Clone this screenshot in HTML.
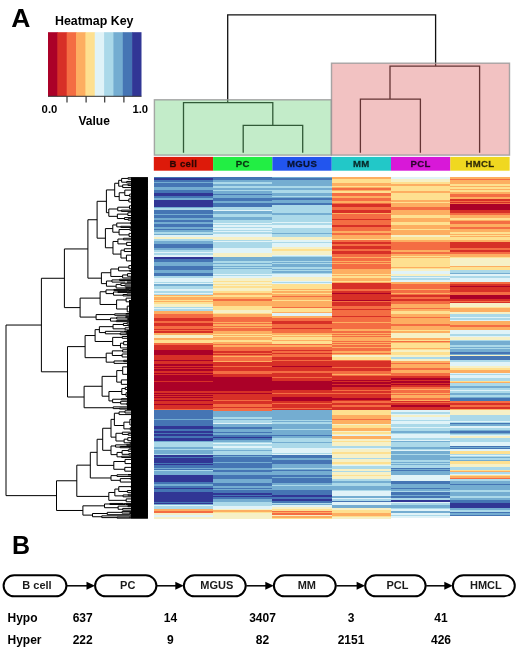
<!DOCTYPE html>
<html><head><meta charset="utf-8"><title>Figure</title>
<style>html,body{margin:0;padding:0;background:#fff;width:520px;height:649px;overflow:hidden}svg{display:block;filter:blur(0.45px)}
text{font-family:"Liberation Sans",sans-serif}</style></head>
<body><svg width="520" height="649" viewBox="0 0 520 649" shape-rendering="auto"><rect width="520" height="649" fill="#fff"/><text x="11.2" y="27.2" font-size="26.5" font-weight="bold" font-family="Liberation Sans, sans-serif">A</text><text x="94.2" y="24.7" text-anchor="middle" font-size="12.4" font-weight="bold" font-family="Liberation Sans, sans-serif">Heatmap Key</text><text x="41.6" y="112.6" font-size="11.3" font-weight="bold" font-family="Liberation Sans, sans-serif">0.0</text><text x="132.4" y="112.6" font-size="11.3" font-weight="bold" font-family="Liberation Sans, sans-serif">1.0</text><text x="94.2" y="124.9" text-anchor="middle" font-size="12" font-weight="bold" font-family="Liberation Sans, sans-serif">Value</text><text x="12" y="553.7" font-size="25" font-weight="bold" font-family="Liberation Sans, sans-serif">B</text><rect x="48" y="32.2" width="9.95" height="64.1" fill="#ab0128"/><rect x="57.35" y="32.2" width="9.95" height="64.1" fill="#d73027"/><rect x="66.7" y="32.2" width="9.95" height="64.1" fill="#f46d43"/><rect x="76.05" y="32.2" width="9.95" height="64.1" fill="#fdae61"/><rect x="85.4" y="32.2" width="9.95" height="64.1" fill="#fee090"/><rect x="94.75" y="32.2" width="9.95" height="64.1" fill="#e0f3f8"/><rect x="104.1" y="32.2" width="9.95" height="64.1" fill="#abd9e9"/><rect x="113.45" y="32.2" width="9.95" height="64.1" fill="#74add1"/><rect x="122.8" y="32.2" width="9.95" height="64.1" fill="#4575b4"/><rect x="132.15" y="32.2" width="9.35" height="64.1" fill="#313695"/><path d="M48.0 96.3H141.5" stroke="#333" stroke-width="1"/><path d="M67 96.3V102.5" stroke="#333" stroke-width="1.2"/><path d="M86.1 96.3V102.5" stroke="#333" stroke-width="1.2"/><path d="M104.7 96.3V102.5" stroke="#333" stroke-width="1.2"/><path d="M123.9 96.3V102.5" stroke="#333" stroke-width="1.2"/><path d="M227.7 14.8L435.6 14.8M227.7 14.8L227.7 102.7M435.6 14.8L435.6 66.2M183.5 102.7L272.8 102.7M183.5 102.7L183.5 152M272.8 102.7L272.8 125.4M243.2 125.4L302.7 125.4M243.2 125.4L243.2 152M302.7 125.4L302.7 152M390 66.2L479.6 66.2M390 66.2L390 99.2M360.4 99.2L420.4 99.2M360.4 99.2L360.4 152M420.4 99.2L420.4 152M479.6 66.2L479.6 152" stroke="#111" stroke-width="1.3" fill="none" stroke-linecap="square"/><rect x="154.4" y="99.8" width="176.9" height="55.3" fill="rgb(100,205,115)" fill-opacity="0.39" stroke="#999" stroke-opacity="0.85" stroke-width="1.4"/><rect x="331.5" y="63.2" width="178" height="91.9" fill="rgb(223,104,104)" fill-opacity="0.404" stroke="#999" stroke-opacity="0.85" stroke-width="1.4"/><rect x="153.8" y="156.9" width="59.35" height="13.8" fill="#dd1a0a"/><text x="183.45" y="167" text-anchor="middle" font-size="9.6" letter-spacing="0.35" font-weight="bold" fill="#000" fill-opacity="0.75" stroke="#000" stroke-opacity="0.6" stroke-width="0.35" font-family="Liberation Sans, sans-serif">B cell</text><rect x="213.1" y="156.9" width="59.35" height="13.8" fill="#22ee44"/><text x="242.75" y="167" text-anchor="middle" font-size="9.6" letter-spacing="0.35" font-weight="bold" fill="#000" fill-opacity="0.75" stroke="#000" stroke-opacity="0.6" stroke-width="0.35" font-family="Liberation Sans, sans-serif">PC</text><rect x="272.4" y="156.9" width="59.35" height="13.8" fill="#2255ee"/><text x="302.05" y="167" text-anchor="middle" font-size="9.6" letter-spacing="0.35" font-weight="bold" fill="#000" fill-opacity="0.75" stroke="#000" stroke-opacity="0.6" stroke-width="0.35" font-family="Liberation Sans, sans-serif">MGUS</text><rect x="331.7" y="156.9" width="59.35" height="13.8" fill="#22c8c8"/><text x="361.35" y="167" text-anchor="middle" font-size="9.6" letter-spacing="0.35" font-weight="bold" fill="#000" fill-opacity="0.75" stroke="#000" stroke-opacity="0.6" stroke-width="0.35" font-family="Liberation Sans, sans-serif">MM</text><rect x="391.0" y="156.9" width="59.35" height="13.8" fill="#d818d8"/><text x="420.65" y="167" text-anchor="middle" font-size="9.6" letter-spacing="0.35" font-weight="bold" fill="#000" fill-opacity="0.75" stroke="#000" stroke-opacity="0.6" stroke-width="0.35" font-family="Liberation Sans, sans-serif">PCL</text><rect x="450.3" y="156.9" width="59.35" height="13.8" fill="#f0d820"/><text x="479.95" y="167" text-anchor="middle" font-size="9.6" letter-spacing="0.35" font-weight="bold" fill="#000" fill-opacity="0.75" stroke="#000" stroke-opacity="0.6" stroke-width="0.35" font-family="Liberation Sans, sans-serif">HMCL</text><g shape-rendering="crispEdges"><rect x="153.8" y="177.3" width="59.3" height="1.03" fill="#4575b4"/><rect x="153.8" y="178.28" width="59.3" height="1.93" fill="#313695"/><rect x="153.8" y="180.16" width="59.3" height="1.46" fill="#4575b4"/><rect x="153.8" y="181.57" width="59.3" height="1.69" fill="#74add1"/><rect x="153.8" y="183.21" width="59.3" height="2.4" fill="#4575b4"/><rect x="153.8" y="185.56" width="59.3" height="1.69" fill="#4575b4"/><rect x="153.8" y="187.2" width="59.3" height="2.4" fill="#74add1"/><rect x="153.8" y="189.55" width="59.3" height="3.1" fill="#4575b4"/><rect x="153.8" y="192.6" width="59.3" height="1.69" fill="#313695"/><rect x="153.8" y="194.24" width="59.3" height="1.93" fill="#313695"/><rect x="153.8" y="196.12" width="59.3" height="1.93" fill="#4575b4"/><rect x="153.8" y="197.99" width="59.3" height="1.69" fill="#74add1"/><rect x="153.8" y="199.64" width="59.3" height="2.4" fill="#313695"/><rect x="153.8" y="201.98" width="59.3" height="4.74" fill="#313695"/><rect x="153.8" y="206.68" width="59.3" height="1.69" fill="#74add1"/><rect x="153.8" y="208.32" width="59.3" height="1.93" fill="#abd9e9"/><rect x="153.8" y="210.19" width="59.3" height="3.57" fill="#4575b4"/><rect x="153.8" y="213.71" width="59.3" height="1.69" fill="#74add1"/><rect x="153.8" y="215.36" width="59.3" height="3.1" fill="#4575b4"/><rect x="153.8" y="218.41" width="59.3" height="1.69" fill="#74add1"/><rect x="153.8" y="220.05" width="59.3" height="1.93" fill="#4575b4"/><rect x="153.8" y="221.93" width="59.3" height="2.4" fill="#74add1"/><rect x="153.8" y="224.27" width="59.3" height="2.4" fill="#4575b4"/><rect x="153.8" y="226.62" width="59.3" height="1.93" fill="#74add1"/><rect x="153.8" y="228.5" width="59.3" height="1.22" fill="#4575b4"/><rect x="153.8" y="229.67" width="59.3" height="1.22" fill="#74add1"/><rect x="153.8" y="230.84" width="59.3" height="1.69" fill="#74add1"/><rect x="153.8" y="232.48" width="59.3" height="1.34" fill="#abd9e9"/><rect x="153.8" y="233.78" width="59.3" height="1.34" fill="#74add1"/><rect x="153.8" y="235.07" width="59.3" height="1.86" fill="#e0f3f8"/><rect x="153.8" y="236.88" width="59.3" height="2.4" fill="#f6f0c6"/><rect x="153.8" y="239.22" width="59.3" height="1.46" fill="#abd9e9"/><rect x="153.8" y="240.63" width="59.3" height="1.46" fill="#74add1"/><rect x="153.8" y="242.04" width="59.3" height="2.4" fill="#74add1"/><rect x="153.8" y="244.39" width="59.3" height="3.57" fill="#4575b4"/><rect x="153.8" y="247.9" width="59.3" height="1.69" fill="#74add1"/><rect x="153.8" y="249.55" width="59.3" height="2.4" fill="#abd9e9"/><rect x="153.8" y="251.89" width="59.3" height="1.58" fill="#e0f3f8"/><rect x="153.8" y="253.42" width="59.3" height="1.58" fill="#abd9e9"/><rect x="153.8" y="254.94" width="59.3" height="2.4" fill="#e0f3f8"/><rect x="153.8" y="257.29" width="59.3" height="1.69" fill="#313695"/><rect x="153.8" y="258.93" width="59.3" height="1.93" fill="#4575b4"/><rect x="153.8" y="260.81" width="59.3" height="1.22" fill="#4575b4"/><rect x="153.8" y="261.98" width="59.3" height="1.22" fill="#74add1"/><rect x="153.8" y="263.16" width="59.3" height="2.4" fill="#74add1"/><rect x="153.8" y="265.5" width="59.3" height="4.74" fill="#4575b4"/><rect x="153.8" y="270.19" width="59.3" height="2.4" fill="#74add1"/><rect x="153.8" y="272.54" width="59.3" height="3.57" fill="#4575b4"/><rect x="153.8" y="276.06" width="59.3" height="2.4" fill="#abd9e9"/><rect x="153.8" y="278.41" width="59.3" height="3.57" fill="#e0f3f8"/><rect x="153.8" y="281.93" width="59.3" height="1.22" fill="#abd9e9"/><rect x="153.8" y="283.1" width="59.3" height="1.22" fill="#e0f3f8"/><rect x="153.8" y="284.27" width="59.3" height="1.93" fill="#74add1"/><rect x="153.8" y="286.15" width="59.3" height="2.4" fill="#abd9e9"/><rect x="153.8" y="288.5" width="59.3" height="2.4" fill="#e0f3f8"/><rect x="153.8" y="290.84" width="59.3" height="1.93" fill="#abd9e9"/><rect x="153.8" y="292.72" width="59.3" height="1.22" fill="#e0f3f8"/><rect x="153.8" y="293.89" width="59.3" height="1.22" fill="#abd9e9"/><rect x="153.8" y="295.07" width="59.3" height="1.19" fill="#fdae61"/><rect x="153.8" y="296.21" width="59.3" height="1.19" fill="#fee090"/><rect x="153.8" y="297.35" width="59.3" height="2.4" fill="#fdae61"/><rect x="153.8" y="299.69" width="59.3" height="1.22" fill="#fee090"/><rect x="153.8" y="300.87" width="59.3" height="1.22" fill="#fdae61"/><rect x="153.8" y="302.04" width="59.3" height="2.4" fill="#fee090"/><rect x="153.8" y="304.39" width="59.3" height="2.4" fill="#f6f0c6"/><rect x="153.8" y="306.73" width="59.3" height="1.22" fill="#abd9e9"/><rect x="153.8" y="307.9" width="59.3" height="1.22" fill="#e0f3f8"/><rect x="153.8" y="309.08" width="59.3" height="2.4" fill="#abd9e9"/><rect x="153.8" y="311.42" width="59.3" height="2.4" fill="#fdae61"/><rect x="153.8" y="313.77" width="59.3" height="4.74" fill="#f46d43"/><rect x="153.8" y="318.46" width="59.3" height="2.4" fill="#d73027"/><rect x="153.8" y="320.81" width="59.3" height="2.4" fill="#f46d43"/><rect x="153.8" y="323.16" width="59.3" height="2.4" fill="#d73027"/><rect x="153.8" y="325.5" width="59.3" height="3.57" fill="#f46d43"/><rect x="153.8" y="329.02" width="59.3" height="1.22" fill="#d73027"/><rect x="153.8" y="330.19" width="59.3" height="1.22" fill="#f46d43"/><rect x="153.8" y="331.37" width="59.3" height="1.22" fill="#d73027"/><rect x="153.8" y="332.54" width="59.3" height="2.4" fill="#fdae61"/><rect x="153.8" y="334.89" width="59.3" height="3.57" fill="#f6f0c6"/><rect x="153.8" y="338.41" width="59.3" height="1.22" fill="#fdae61"/><rect x="153.8" y="339.58" width="59.3" height="1.22" fill="#fee090"/><rect x="153.8" y="340.75" width="59.3" height="2.4" fill="#fee090"/><rect x="153.8" y="343.1" width="59.3" height="2.4" fill="#f46d43"/><rect x="153.8" y="345.45" width="59.3" height="3.1" fill="#d73027"/><rect x="153.8" y="348.5" width="59.3" height="1.46" fill="#d73027"/><rect x="153.8" y="349.9" width="59.3" height="1.46" fill="#ab0128"/><rect x="153.8" y="351.31" width="59.3" height="3.8" fill="#ab0128"/><rect x="153.8" y="355.07" width="59.3" height="3.5" fill="#d73027"/><rect x="153.8" y="358.52" width="59.3" height="1.22" fill="#d73027"/><rect x="153.8" y="359.69" width="59.3" height="1.22" fill="#ab0128"/><rect x="153.8" y="360.87" width="59.3" height="3.57" fill="#d73027"/><rect x="153.8" y="364.39" width="59.3" height="1.22" fill="#ab0128"/><rect x="153.8" y="365.56" width="59.3" height="1.22" fill="#d73027"/><rect x="153.8" y="366.73" width="59.3" height="1.22" fill="#ab0128"/><rect x="153.8" y="367.9" width="59.3" height="1.61" fill="#d73027"/><rect x="153.8" y="369.47" width="59.3" height="1.61" fill="#ab0128"/><rect x="153.8" y="371.03" width="59.3" height="1.61" fill="#d73027"/><rect x="153.8" y="372.6" width="59.3" height="1.22" fill="#ab0128"/><rect x="153.8" y="373.77" width="59.3" height="1.22" fill="#d73027"/><rect x="153.8" y="374.94" width="59.3" height="1.22" fill="#ab0128"/><rect x="153.8" y="376.12" width="59.3" height="4.74" fill="#ab0128"/><rect x="153.8" y="380.81" width="59.3" height="1.22" fill="#d73027"/><rect x="153.8" y="381.98" width="59.3" height="1.22" fill="#ab0128"/><rect x="153.8" y="383.16" width="59.3" height="7.09" fill="#ab0128"/><rect x="153.8" y="390.19" width="59.3" height="1.22" fill="#ab0128"/><rect x="153.8" y="391.37" width="59.3" height="1.22" fill="#d73027"/><rect x="153.8" y="392.54" width="59.3" height="1.22" fill="#ab0128"/><rect x="153.8" y="393.71" width="59.3" height="1.22" fill="#d73027"/><rect x="153.8" y="394.89" width="59.3" height="1.22" fill="#ab0128"/><rect x="153.8" y="396.06" width="59.3" height="1.22" fill="#d73027"/><rect x="153.8" y="397.23" width="59.3" height="1.22" fill="#ab0128"/><rect x="153.8" y="398.41" width="59.3" height="1.22" fill="#d73027"/><rect x="153.8" y="399.58" width="59.3" height="1.22" fill="#ab0128"/><rect x="153.8" y="400.75" width="59.3" height="2.4" fill="#d73027"/><rect x="153.8" y="403.1" width="59.3" height="1.22" fill="#d73027"/><rect x="153.8" y="404.27" width="59.3" height="1.22" fill="#ab0128"/><rect x="153.8" y="405.45" width="59.3" height="3.1" fill="#d73027"/><rect x="153.8" y="408.5" width="59.3" height="1.22" fill="#f46d43"/><rect x="153.8" y="409.67" width="59.3" height="5.45" fill="#4575b4"/><rect x="153.8" y="415.07" width="59.3" height="2.33" fill="#4575b4"/><rect x="153.8" y="417.35" width="59.3" height="1.22" fill="#4575b4"/><rect x="153.8" y="418.52" width="59.3" height="1.22" fill="#74add1"/><rect x="153.8" y="419.69" width="59.3" height="5.92" fill="#4575b4"/><rect x="153.8" y="425.56" width="59.3" height="2.4" fill="#313695"/><rect x="153.8" y="427.9" width="59.3" height="1.22" fill="#313695"/><rect x="153.8" y="429.08" width="59.3" height="1.22" fill="#4575b4"/><rect x="153.8" y="430.25" width="59.3" height="1.22" fill="#4575b4"/><rect x="153.8" y="431.42" width="59.3" height="1.22" fill="#313695"/><rect x="153.8" y="432.6" width="59.3" height="1.22" fill="#4575b4"/><rect x="153.8" y="433.77" width="59.3" height="2.4" fill="#313695"/><rect x="153.8" y="436.12" width="59.3" height="2.4" fill="#4575b4"/><rect x="153.8" y="438.46" width="59.3" height="2.4" fill="#313695"/><rect x="153.8" y="440.81" width="59.3" height="1.22" fill="#74add1"/><rect x="153.8" y="441.98" width="59.3" height="1.22" fill="#abd9e9"/><rect x="153.8" y="443.16" width="59.3" height="3.57" fill="#abd9e9"/><rect x="153.8" y="446.68" width="59.3" height="2.4" fill="#74add1"/><rect x="153.8" y="449.02" width="59.3" height="1.22" fill="#abd9e9"/><rect x="153.8" y="450.19" width="59.3" height="1.22" fill="#74add1"/><rect x="153.8" y="451.37" width="59.3" height="2.4" fill="#74add1"/><rect x="153.8" y="453.71" width="59.3" height="1.69" fill="#abd9e9"/><rect x="153.8" y="455.36" width="59.3" height="1.58" fill="#313695"/><rect x="153.8" y="456.88" width="59.3" height="1.58" fill="#4575b4"/><rect x="153.8" y="458.41" width="59.3" height="3.57" fill="#313695"/><rect x="153.8" y="461.93" width="59.3" height="1.22" fill="#313695"/><rect x="153.8" y="463.1" width="59.3" height="1.22" fill="#4575b4"/><rect x="153.8" y="464.27" width="59.3" height="1.22" fill="#313695"/><rect x="153.8" y="465.45" width="59.3" height="2.4" fill="#4575b4"/><rect x="153.8" y="467.79" width="59.3" height="1.22" fill="#74add1"/><rect x="153.8" y="468.97" width="59.3" height="1.22" fill="#4575b4"/><rect x="153.8" y="470.14" width="59.3" height="1.22" fill="#abd9e9"/><rect x="153.8" y="471.31" width="59.3" height="1.22" fill="#74add1"/><rect x="153.8" y="472.48" width="59.3" height="2.63" fill="#74add1"/><rect x="153.8" y="475.07" width="59.3" height="6.72" fill="#313695"/><rect x="153.8" y="481.73" width="59.3" height="1.93" fill="#4575b4"/><rect x="153.8" y="483.61" width="59.3" height="2.4" fill="#74add1"/><rect x="153.8" y="485.95" width="59.3" height="1.69" fill="#4575b4"/><rect x="153.8" y="487.6" width="59.3" height="1.22" fill="#313695"/><rect x="153.8" y="488.77" width="59.3" height="1.22" fill="#4575b4"/><rect x="153.8" y="489.94" width="59.3" height="2.4" fill="#4575b4"/><rect x="153.8" y="492.29" width="59.3" height="9.44" fill="#313695"/><rect x="153.8" y="501.68" width="59.3" height="1.22" fill="#4575b4"/><rect x="153.8" y="502.85" width="59.3" height="1.22" fill="#313695"/><rect x="153.8" y="504.02" width="59.3" height="1.22" fill="#74add1"/><rect x="153.8" y="505.19" width="59.3" height="1.22" fill="#e0f3f8"/><rect x="153.8" y="506.37" width="59.3" height="1.22" fill="#abd9e9"/><rect x="153.8" y="507.54" width="59.3" height="1.93" fill="#abd9e9"/><rect x="153.8" y="509.42" width="59.3" height="1.69" fill="#fdae61"/><rect x="153.8" y="511.06" width="59.3" height="2.4" fill="#f46d43"/><rect x="153.8" y="513.41" width="59.3" height="1.69" fill="#f6f0c6"/><rect x="153.8" y="515.05" width="59.3" height="1.93" fill="#e0f3f8"/><rect x="153.8" y="516.93" width="59.3" height="1.62" fill="#f6f0c6"/><rect x="213.1" y="177.3" width="59.3" height="2.44" fill="#4575b4"/><rect x="213.1" y="179.69" width="59.3" height="2.4" fill="#74add1"/><rect x="213.1" y="182.04" width="59.3" height="1.93" fill="#abd9e9"/><rect x="213.1" y="183.92" width="59.3" height="1.69" fill="#74add1"/><rect x="213.1" y="185.56" width="59.3" height="2.4" fill="#abd9e9"/><rect x="213.1" y="187.9" width="59.3" height="1.69" fill="#74add1"/><rect x="213.1" y="189.55" width="59.3" height="1.93" fill="#abd9e9"/><rect x="213.1" y="191.42" width="59.3" height="2.87" fill="#74add1"/><rect x="213.1" y="194.24" width="59.3" height="1.22" fill="#4575b4"/><rect x="213.1" y="195.41" width="59.3" height="1.22" fill="#74add1"/><rect x="213.1" y="196.59" width="59.3" height="1.93" fill="#74add1"/><rect x="213.1" y="198.46" width="59.3" height="2.4" fill="#4575b4"/><rect x="213.1" y="200.81" width="59.3" height="2.4" fill="#74add1"/><rect x="213.1" y="203.16" width="59.3" height="3.57" fill="#4575b4"/><rect x="213.1" y="206.68" width="59.3" height="2.4" fill="#abd9e9"/><rect x="213.1" y="209.02" width="59.3" height="1.22" fill="#abd9e9"/><rect x="213.1" y="210.19" width="59.3" height="1.22" fill="#e0f3f8"/><rect x="213.1" y="211.37" width="59.3" height="3.1" fill="#74add1"/><rect x="213.1" y="214.42" width="59.3" height="2.4" fill="#abd9e9"/><rect x="213.1" y="216.76" width="59.3" height="2.87" fill="#74add1"/><rect x="213.1" y="219.58" width="59.3" height="2.4" fill="#abd9e9"/><rect x="213.1" y="221.93" width="59.3" height="1.22" fill="#abd9e9"/><rect x="213.1" y="223.1" width="59.3" height="1.22" fill="#e0f3f8"/><rect x="213.1" y="224.27" width="59.3" height="1.22" fill="#abd9e9"/><rect x="213.1" y="225.45" width="59.3" height="1.42" fill="#e0f3f8"/><rect x="213.1" y="226.82" width="59.3" height="1.42" fill="#abd9e9"/><rect x="213.1" y="228.19" width="59.3" height="1.42" fill="#e0f3f8"/><rect x="213.1" y="229.57" width="59.3" height="1.42" fill="#abd9e9"/><rect x="213.1" y="230.94" width="59.3" height="1.42" fill="#e0f3f8"/><rect x="213.1" y="232.32" width="59.3" height="1.42" fill="#abd9e9"/><rect x="213.1" y="233.69" width="59.3" height="1.42" fill="#e0f3f8"/><rect x="213.1" y="235.07" width="59.3" height="2.33" fill="#e0f3f8"/><rect x="213.1" y="237.35" width="59.3" height="2.4" fill="#f6f0c6"/><rect x="213.1" y="239.69" width="59.3" height="1.22" fill="#abd9e9"/><rect x="213.1" y="240.87" width="59.3" height="1.22" fill="#e0f3f8"/><rect x="213.1" y="242.04" width="59.3" height="1.22" fill="#abd9e9"/><rect x="213.1" y="243.21" width="59.3" height="3.57" fill="#abd9e9"/><rect x="213.1" y="246.73" width="59.3" height="1.22" fill="#abd9e9"/><rect x="213.1" y="247.9" width="59.3" height="1.22" fill="#e0f3f8"/><rect x="213.1" y="249.08" width="59.3" height="3.57" fill="#e0f3f8"/><rect x="213.1" y="252.6" width="59.3" height="2.4" fill="#f6f0c6"/><rect x="213.1" y="254.94" width="59.3" height="2.4" fill="#f6f0c6"/><rect x="213.1" y="257.29" width="59.3" height="2.4" fill="#74add1"/><rect x="213.1" y="259.64" width="59.3" height="1.22" fill="#74add1"/><rect x="213.1" y="260.81" width="59.3" height="1.22" fill="#abd9e9"/><rect x="213.1" y="261.98" width="59.3" height="1.22" fill="#abd9e9"/><rect x="213.1" y="263.16" width="59.3" height="1.22" fill="#74add1"/><rect x="213.1" y="264.33" width="59.3" height="1.22" fill="#abd9e9"/><rect x="213.1" y="265.5" width="59.3" height="1.22" fill="#74add1"/><rect x="213.1" y="266.68" width="59.3" height="1.22" fill="#abd9e9"/><rect x="213.1" y="267.85" width="59.3" height="1.22" fill="#74add1"/><rect x="213.1" y="269.02" width="59.3" height="3.57" fill="#abd9e9"/><rect x="213.1" y="272.54" width="59.3" height="1.22" fill="#abd9e9"/><rect x="213.1" y="273.71" width="59.3" height="1.22" fill="#e0f3f8"/><rect x="213.1" y="274.89" width="59.3" height="1.22" fill="#abd9e9"/><rect x="213.1" y="276.06" width="59.3" height="2.4" fill="#e0f3f8"/><rect x="213.1" y="278.41" width="59.3" height="2.4" fill="#f6f0c6"/><rect x="213.1" y="280.75" width="59.3" height="1.46" fill="#fee090"/><rect x="213.1" y="282.16" width="59.3" height="1.46" fill="#f6f0c6"/><rect x="213.1" y="283.57" width="59.3" height="1.46" fill="#fee090"/><rect x="213.1" y="284.98" width="59.3" height="1.46" fill="#f6f0c6"/><rect x="213.1" y="286.38" width="59.3" height="1.46" fill="#fee090"/><rect x="213.1" y="287.79" width="59.3" height="3.57" fill="#f6f0c6"/><rect x="213.1" y="291.31" width="59.3" height="1.93" fill="#fee090"/><rect x="213.1" y="293.19" width="59.3" height="1.93" fill="#fdae61"/><rect x="213.1" y="295.07" width="59.3" height="2.33" fill="#fee090"/><rect x="213.1" y="297.35" width="59.3" height="1.93" fill="#fdae61"/><rect x="213.1" y="299.22" width="59.3" height="1.46" fill="#f46d43"/><rect x="213.1" y="300.63" width="59.3" height="1.46" fill="#fdae61"/><rect x="213.1" y="302.04" width="59.3" height="2.4" fill="#fdae61"/><rect x="213.1" y="304.39" width="59.3" height="1.22" fill="#fdae61"/><rect x="213.1" y="305.56" width="59.3" height="1.22" fill="#fee090"/><rect x="213.1" y="306.73" width="59.3" height="2.87" fill="#fee090"/><rect x="213.1" y="309.55" width="59.3" height="3.1" fill="#f6f0c6"/><rect x="213.1" y="312.6" width="59.3" height="1.22" fill="#fee090"/><rect x="213.1" y="313.77" width="59.3" height="1.22" fill="#fdae61"/><rect x="213.1" y="314.94" width="59.3" height="2.4" fill="#fdae61"/><rect x="213.1" y="317.29" width="59.3" height="3.57" fill="#f46d43"/><rect x="213.1" y="320.81" width="59.3" height="1.22" fill="#f46d43"/><rect x="213.1" y="321.98" width="59.3" height="1.22" fill="#fdae61"/><rect x="213.1" y="323.16" width="59.3" height="1.22" fill="#f46d43"/><rect x="213.1" y="324.33" width="59.3" height="1.22" fill="#fdae61"/><rect x="213.1" y="325.5" width="59.3" height="1.22" fill="#f46d43"/><rect x="213.1" y="326.68" width="59.3" height="1.22" fill="#fdae61"/><rect x="213.1" y="327.85" width="59.3" height="3.57" fill="#f46d43"/><rect x="213.1" y="331.37" width="59.3" height="2.4" fill="#fdae61"/><rect x="213.1" y="333.71" width="59.3" height="1.22" fill="#fee090"/><rect x="213.1" y="334.89" width="59.3" height="1.22" fill="#fdae61"/><rect x="213.1" y="336.06" width="59.3" height="1.22" fill="#fee090"/><rect x="213.1" y="337.23" width="59.3" height="2.4" fill="#fdae61"/><rect x="213.1" y="339.58" width="59.3" height="2.4" fill="#fee090"/><rect x="213.1" y="341.93" width="59.3" height="2.4" fill="#fdae61"/><rect x="213.1" y="344.27" width="59.3" height="1.22" fill="#f46d43"/><rect x="213.1" y="345.45" width="59.3" height="1.22" fill="#fdae61"/><rect x="213.1" y="346.62" width="59.3" height="3.57" fill="#f46d43"/><rect x="213.1" y="350.14" width="59.3" height="1.28" fill="#f46d43"/><rect x="213.1" y="351.37" width="59.3" height="1.28" fill="#d73027"/><rect x="213.1" y="352.6" width="59.3" height="1.28" fill="#f46d43"/><rect x="213.1" y="353.83" width="59.3" height="1.28" fill="#d73027"/><rect x="213.1" y="355.07" width="59.3" height="1.19" fill="#f46d43"/><rect x="213.1" y="356.21" width="59.3" height="1.19" fill="#fdae61"/><rect x="213.1" y="357.35" width="59.3" height="2.4" fill="#f46d43"/><rect x="213.1" y="359.69" width="59.3" height="1.22" fill="#f46d43"/><rect x="213.1" y="360.87" width="59.3" height="1.22" fill="#fdae61"/><rect x="213.1" y="362.04" width="59.3" height="2.4" fill="#d73027"/><rect x="213.1" y="364.39" width="59.3" height="1.22" fill="#d73027"/><rect x="213.1" y="365.56" width="59.3" height="1.22" fill="#f46d43"/><rect x="213.1" y="366.73" width="59.3" height="1.22" fill="#d73027"/><rect x="213.1" y="367.9" width="59.3" height="3.57" fill="#d73027"/><rect x="213.1" y="371.42" width="59.3" height="2.4" fill="#f46d43"/><rect x="213.1" y="373.77" width="59.3" height="3.57" fill="#d73027"/><rect x="213.1" y="377.29" width="59.3" height="12.95" fill="#ab0128"/><rect x="213.1" y="390.19" width="59.3" height="1.22" fill="#ab0128"/><rect x="213.1" y="391.37" width="59.3" height="1.22" fill="#d73027"/><rect x="213.1" y="392.54" width="59.3" height="1.22" fill="#ab0128"/><rect x="213.1" y="393.71" width="59.3" height="4.74" fill="#d73027"/><rect x="213.1" y="398.41" width="59.3" height="1.22" fill="#d73027"/><rect x="213.1" y="399.58" width="59.3" height="1.22" fill="#f46d43"/><rect x="213.1" y="400.75" width="59.3" height="3.57" fill="#d73027"/><rect x="213.1" y="404.27" width="59.3" height="2.4" fill="#f46d43"/><rect x="213.1" y="406.62" width="59.3" height="1.22" fill="#d73027"/><rect x="213.1" y="407.79" width="59.3" height="1.22" fill="#f46d43"/><rect x="213.1" y="408.97" width="59.3" height="1.69" fill="#f46d43"/><rect x="213.1" y="410.61" width="59.3" height="4.51" fill="#74add1"/><rect x="213.1" y="415.07" width="59.3" height="2.33" fill="#74add1"/><rect x="213.1" y="417.35" width="59.3" height="1.22" fill="#abd9e9"/><rect x="213.1" y="418.52" width="59.3" height="1.22" fill="#74add1"/><rect x="213.1" y="419.69" width="59.3" height="2.87" fill="#abd9e9"/><rect x="213.1" y="422.51" width="59.3" height="1.93" fill="#e0f3f8"/><rect x="213.1" y="424.39" width="59.3" height="2.4" fill="#74add1"/><rect x="213.1" y="426.73" width="59.3" height="2.4" fill="#4575b4"/><rect x="213.1" y="429.08" width="59.3" height="2.87" fill="#74add1"/><rect x="213.1" y="431.89" width="59.3" height="1.58" fill="#4575b4"/><rect x="213.1" y="433.42" width="59.3" height="1.58" fill="#74add1"/><rect x="213.1" y="434.94" width="59.3" height="2.4" fill="#4575b4"/><rect x="213.1" y="437.29" width="59.3" height="1.22" fill="#313695"/><rect x="213.1" y="438.46" width="59.3" height="1.22" fill="#4575b4"/><rect x="213.1" y="439.64" width="59.3" height="2.4" fill="#74add1"/><rect x="213.1" y="441.98" width="59.3" height="1.22" fill="#abd9e9"/><rect x="213.1" y="443.16" width="59.3" height="1.22" fill="#e0f3f8"/><rect x="213.1" y="444.33" width="59.3" height="1.22" fill="#abd9e9"/><rect x="213.1" y="445.5" width="59.3" height="2.4" fill="#e0f3f8"/><rect x="213.1" y="447.85" width="59.3" height="2.4" fill="#abd9e9"/><rect x="213.1" y="450.19" width="59.3" height="1.22" fill="#74add1"/><rect x="213.1" y="451.37" width="59.3" height="1.22" fill="#abd9e9"/><rect x="213.1" y="452.54" width="59.3" height="2.4" fill="#abd9e9"/><rect x="213.1" y="454.89" width="59.3" height="1.22" fill="#4575b4"/><rect x="213.1" y="456.06" width="59.3" height="1.22" fill="#74add1"/><rect x="213.1" y="457.23" width="59.3" height="1.22" fill="#4575b4"/><rect x="213.1" y="458.41" width="59.3" height="3.57" fill="#4575b4"/><rect x="213.1" y="461.93" width="59.3" height="1.22" fill="#74add1"/><rect x="213.1" y="463.1" width="59.3" height="1.22" fill="#4575b4"/><rect x="213.1" y="464.27" width="59.3" height="3.57" fill="#4575b4"/><rect x="213.1" y="467.79" width="59.3" height="2.4" fill="#74add1"/><rect x="213.1" y="470.14" width="59.3" height="2.4" fill="#4575b4"/><rect x="213.1" y="472.48" width="59.3" height="2.63" fill="#74add1"/><rect x="213.1" y="475.07" width="59.3" height="3.2" fill="#4575b4"/><rect x="213.1" y="478.21" width="59.3" height="1.22" fill="#4575b4"/><rect x="213.1" y="479.39" width="59.3" height="1.22" fill="#74add1"/><rect x="213.1" y="480.56" width="59.3" height="2.4" fill="#74add1"/><rect x="213.1" y="482.9" width="59.3" height="3.57" fill="#4575b4"/><rect x="213.1" y="486.42" width="59.3" height="1.22" fill="#74add1"/><rect x="213.1" y="487.6" width="59.3" height="1.22" fill="#4575b4"/><rect x="213.1" y="488.77" width="59.3" height="1.22" fill="#74add1"/><rect x="213.1" y="489.94" width="59.3" height="3.57" fill="#4575b4"/><rect x="213.1" y="493.46" width="59.3" height="1.22" fill="#313695"/><rect x="213.1" y="494.64" width="59.3" height="1.22" fill="#4575b4"/><rect x="213.1" y="495.81" width="59.3" height="1.22" fill="#313695"/><rect x="213.1" y="496.98" width="59.3" height="2.4" fill="#4575b4"/><rect x="213.1" y="499.33" width="59.3" height="2.4" fill="#74add1"/><rect x="213.1" y="501.68" width="59.3" height="2.4" fill="#abd9e9"/><rect x="213.1" y="504.02" width="59.3" height="1.69" fill="#abd9e9"/><rect x="213.1" y="505.66" width="59.3" height="3.1" fill="#e0f3f8"/><rect x="213.1" y="508.71" width="59.3" height="1.69" fill="#f6f0c6"/><rect x="213.1" y="510.36" width="59.3" height="1.46" fill="#fdae61"/><rect x="213.1" y="511.76" width="59.3" height="1.69" fill="#fee090"/><rect x="213.1" y="513.41" width="59.3" height="2.4" fill="#f6f0c6"/><rect x="213.1" y="515.75" width="59.3" height="2.8" fill="#f6f0c6"/><rect x="272.4" y="177.3" width="59.3" height="1.24" fill="#74add1"/><rect x="272.4" y="178.49" width="59.3" height="1.24" fill="#4575b4"/><rect x="272.4" y="179.68" width="59.3" height="1.24" fill="#74add1"/><rect x="272.4" y="180.87" width="59.3" height="4.74" fill="#74add1"/><rect x="272.4" y="185.56" width="59.3" height="2.4" fill="#abd9e9"/><rect x="272.4" y="187.9" width="59.3" height="2.4" fill="#74add1"/><rect x="272.4" y="190.25" width="59.3" height="2.4" fill="#abd9e9"/><rect x="272.4" y="192.6" width="59.3" height="3.57" fill="#74add1"/><rect x="272.4" y="196.12" width="59.3" height="1.22" fill="#abd9e9"/><rect x="272.4" y="197.29" width="59.3" height="1.22" fill="#74add1"/><rect x="272.4" y="198.46" width="59.3" height="1.22" fill="#4575b4"/><rect x="272.4" y="199.64" width="59.3" height="1.22" fill="#74add1"/><rect x="272.4" y="200.81" width="59.3" height="2.4" fill="#74add1"/><rect x="272.4" y="203.16" width="59.3" height="1.93" fill="#4575b4"/><rect x="272.4" y="205.03" width="59.3" height="2.87" fill="#abd9e9"/><rect x="272.4" y="207.85" width="59.3" height="4.74" fill="#abd9e9"/><rect x="272.4" y="212.54" width="59.3" height="2.4" fill="#74add1"/><rect x="272.4" y="214.89" width="59.3" height="7.09" fill="#abd9e9"/><rect x="272.4" y="221.93" width="59.3" height="1.46" fill="#e0f3f8"/><rect x="272.4" y="223.33" width="59.3" height="1.46" fill="#abd9e9"/><rect x="272.4" y="224.74" width="59.3" height="3.1" fill="#e0f3f8"/><rect x="272.4" y="227.79" width="59.3" height="3.57" fill="#abd9e9"/><rect x="272.4" y="231.31" width="59.3" height="1.3" fill="#abd9e9"/><rect x="272.4" y="232.56" width="59.3" height="1.3" fill="#74add1"/><rect x="272.4" y="233.81" width="59.3" height="1.3" fill="#abd9e9"/><rect x="272.4" y="235.07" width="59.3" height="1.86" fill="#abd9e9"/><rect x="272.4" y="236.88" width="59.3" height="2.87" fill="#f6f0c6"/><rect x="272.4" y="239.69" width="59.3" height="2.4" fill="#e0f3f8"/><rect x="272.4" y="242.04" width="59.3" height="1.22" fill="#abd9e9"/><rect x="272.4" y="243.21" width="59.3" height="1.22" fill="#e0f3f8"/><rect x="272.4" y="244.39" width="59.3" height="2.4" fill="#e0f3f8"/><rect x="272.4" y="246.73" width="59.3" height="2.4" fill="#f6f0c6"/><rect x="272.4" y="249.08" width="59.3" height="2.4" fill="#fee090"/><rect x="272.4" y="251.42" width="59.3" height="3.57" fill="#f6f0c6"/><rect x="272.4" y="254.94" width="59.3" height="1.22" fill="#e0f3f8"/><rect x="272.4" y="256.12" width="59.3" height="1.22" fill="#abd9e9"/><rect x="272.4" y="257.29" width="59.3" height="3.57" fill="#74add1"/><rect x="272.4" y="260.81" width="59.3" height="1.22" fill="#abd9e9"/><rect x="272.4" y="261.98" width="59.3" height="1.22" fill="#74add1"/><rect x="272.4" y="263.16" width="59.3" height="1.22" fill="#abd9e9"/><rect x="272.4" y="264.33" width="59.3" height="2.4" fill="#74add1"/><rect x="272.4" y="266.68" width="59.3" height="2.4" fill="#abd9e9"/><rect x="272.4" y="269.02" width="59.3" height="1.22" fill="#74add1"/><rect x="272.4" y="270.19" width="59.3" height="1.22" fill="#abd9e9"/><rect x="272.4" y="271.37" width="59.3" height="1.22" fill="#74add1"/><rect x="272.4" y="272.54" width="59.3" height="1.22" fill="#abd9e9"/><rect x="272.4" y="273.71" width="59.3" height="1.22" fill="#e0f3f8"/><rect x="272.4" y="274.89" width="59.3" height="2.4" fill="#e0f3f8"/><rect x="272.4" y="277.23" width="59.3" height="3.57" fill="#f6f0c6"/><rect x="272.4" y="280.75" width="59.3" height="1.22" fill="#e0f3f8"/><rect x="272.4" y="281.93" width="59.3" height="1.22" fill="#abd9e9"/><rect x="272.4" y="283.1" width="59.3" height="1.22" fill="#e0f3f8"/><rect x="272.4" y="284.27" width="59.3" height="3.57" fill="#fee090"/><rect x="272.4" y="287.79" width="59.3" height="1.22" fill="#fee090"/><rect x="272.4" y="288.97" width="59.3" height="1.22" fill="#fdae61"/><rect x="272.4" y="290.14" width="59.3" height="1.22" fill="#fee090"/><rect x="272.4" y="291.31" width="59.3" height="1.3" fill="#fdae61"/><rect x="272.4" y="292.56" width="59.3" height="1.3" fill="#fee090"/><rect x="272.4" y="293.81" width="59.3" height="1.3" fill="#fdae61"/><rect x="272.4" y="295.07" width="59.3" height="1.19" fill="#fdae61"/><rect x="272.4" y="296.21" width="59.3" height="1.19" fill="#f46d43"/><rect x="272.4" y="297.35" width="59.3" height="2.4" fill="#fdae61"/><rect x="272.4" y="299.69" width="59.3" height="1.22" fill="#fee090"/><rect x="272.4" y="300.87" width="59.3" height="1.22" fill="#fdae61"/><rect x="272.4" y="302.04" width="59.3" height="3.57" fill="#fdae61"/><rect x="272.4" y="305.56" width="59.3" height="1.22" fill="#fdae61"/><rect x="272.4" y="306.73" width="59.3" height="1.22" fill="#f46d43"/><rect x="272.4" y="307.9" width="59.3" height="2.4" fill="#fee090"/><rect x="272.4" y="310.25" width="59.3" height="1.58" fill="#fee090"/><rect x="272.4" y="311.78" width="59.3" height="1.58" fill="#fdae61"/><rect x="272.4" y="313.3" width="59.3" height="2.4" fill="#e0f3f8"/><rect x="272.4" y="315.65" width="59.3" height="2.4" fill="#fdae61"/><rect x="272.4" y="317.99" width="59.3" height="2.87" fill="#f46d43"/><rect x="272.4" y="320.81" width="59.3" height="3.57" fill="#d73027"/><rect x="272.4" y="324.33" width="59.3" height="2.4" fill="#f46d43"/><rect x="272.4" y="326.68" width="59.3" height="1.22" fill="#f46d43"/><rect x="272.4" y="327.85" width="59.3" height="1.22" fill="#d73027"/><rect x="272.4" y="329.02" width="59.3" height="3.57" fill="#f46d43"/><rect x="272.4" y="332.54" width="59.3" height="2.4" fill="#fdae61"/><rect x="272.4" y="334.89" width="59.3" height="1.22" fill="#fee090"/><rect x="272.4" y="336.06" width="59.3" height="1.22" fill="#fdae61"/><rect x="272.4" y="337.23" width="59.3" height="2.4" fill="#fee090"/><rect x="272.4" y="339.58" width="59.3" height="1.93" fill="#fdae61"/><rect x="272.4" y="341.46" width="59.3" height="2.4" fill="#fee090"/><rect x="272.4" y="343.8" width="59.3" height="1.46" fill="#f46d43"/><rect x="272.4" y="345.21" width="59.3" height="1.46" fill="#fdae61"/><rect x="272.4" y="346.62" width="59.3" height="3.57" fill="#f46d43"/><rect x="272.4" y="350.14" width="59.3" height="1.28" fill="#d73027"/><rect x="272.4" y="351.37" width="59.3" height="1.28" fill="#f46d43"/><rect x="272.4" y="352.6" width="59.3" height="1.28" fill="#d73027"/><rect x="272.4" y="353.83" width="59.3" height="1.28" fill="#f46d43"/><rect x="272.4" y="355.07" width="59.3" height="2.33" fill="#f46d43"/><rect x="272.4" y="357.35" width="59.3" height="2.4" fill="#d73027"/><rect x="272.4" y="359.69" width="59.3" height="1.22" fill="#f46d43"/><rect x="272.4" y="360.87" width="59.3" height="1.22" fill="#d73027"/><rect x="272.4" y="362.04" width="59.3" height="3.57" fill="#d73027"/><rect x="272.4" y="365.56" width="59.3" height="1.22" fill="#ab0128"/><rect x="272.4" y="366.73" width="59.3" height="1.22" fill="#d73027"/><rect x="272.4" y="367.9" width="59.3" height="3.57" fill="#d73027"/><rect x="272.4" y="371.42" width="59.3" height="1.22" fill="#f46d43"/><rect x="272.4" y="372.6" width="59.3" height="1.22" fill="#d73027"/><rect x="272.4" y="373.77" width="59.3" height="3.57" fill="#d73027"/><rect x="272.4" y="377.29" width="59.3" height="1.22" fill="#f46d43"/><rect x="272.4" y="378.46" width="59.3" height="1.22" fill="#d73027"/><rect x="272.4" y="379.64" width="59.3" height="1.22" fill="#d73027"/><rect x="272.4" y="380.81" width="59.3" height="1.22" fill="#ab0128"/><rect x="272.4" y="381.98" width="59.3" height="8.26" fill="#ab0128"/><rect x="272.4" y="390.19" width="59.3" height="2.4" fill="#d73027"/><rect x="272.4" y="392.54" width="59.3" height="1.22" fill="#f46d43"/><rect x="272.4" y="393.71" width="59.3" height="1.22" fill="#d73027"/><rect x="272.4" y="394.89" width="59.3" height="2.4" fill="#d73027"/><rect x="272.4" y="397.23" width="59.3" height="3.57" fill="#ab0128"/><rect x="272.4" y="400.75" width="59.3" height="2.4" fill="#d73027"/><rect x="272.4" y="403.1" width="59.3" height="1.22" fill="#f46d43"/><rect x="272.4" y="404.27" width="59.3" height="1.22" fill="#d73027"/><rect x="272.4" y="405.45" width="59.3" height="2.4" fill="#d73027"/><rect x="272.4" y="407.79" width="59.3" height="1.22" fill="#f46d43"/><rect x="272.4" y="408.97" width="59.3" height="1.22" fill="#d73027"/><rect x="272.4" y="410.14" width="59.3" height="4.98" fill="#74add1"/><rect x="272.4" y="415.07" width="59.3" height="4.68" fill="#74add1"/><rect x="272.4" y="419.69" width="59.3" height="1.22" fill="#abd9e9"/><rect x="272.4" y="420.87" width="59.3" height="1.22" fill="#74add1"/><rect x="272.4" y="422.04" width="59.3" height="2.4" fill="#abd9e9"/><rect x="272.4" y="424.39" width="59.3" height="3.57" fill="#74add1"/><rect x="272.4" y="427.9" width="59.3" height="1.22" fill="#74add1"/><rect x="272.4" y="429.08" width="59.3" height="1.22" fill="#abd9e9"/><rect x="272.4" y="430.25" width="59.3" height="1.22" fill="#74add1"/><rect x="272.4" y="431.42" width="59.3" height="3.57" fill="#74add1"/><rect x="272.4" y="434.94" width="59.3" height="1.22" fill="#4575b4"/><rect x="272.4" y="436.12" width="59.3" height="1.22" fill="#74add1"/><rect x="272.4" y="437.29" width="59.3" height="1.22" fill="#74add1"/><rect x="272.4" y="438.46" width="59.3" height="1.22" fill="#abd9e9"/><rect x="272.4" y="439.64" width="59.3" height="2.4" fill="#abd9e9"/><rect x="272.4" y="441.98" width="59.3" height="1.22" fill="#74add1"/><rect x="272.4" y="443.16" width="59.3" height="1.22" fill="#abd9e9"/><rect x="272.4" y="444.33" width="59.3" height="2.4" fill="#abd9e9"/><rect x="272.4" y="446.68" width="59.3" height="1.22" fill="#abd9e9"/><rect x="272.4" y="447.85" width="59.3" height="1.22" fill="#e0f3f8"/><rect x="272.4" y="449.02" width="59.3" height="3.57" fill="#e0f3f8"/><rect x="272.4" y="452.54" width="59.3" height="1.22" fill="#abd9e9"/><rect x="272.4" y="453.71" width="59.3" height="1.22" fill="#e0f3f8"/><rect x="272.4" y="454.89" width="59.3" height="2.4" fill="#4575b4"/><rect x="272.4" y="457.23" width="59.3" height="1.22" fill="#4575b4"/><rect x="272.4" y="458.41" width="59.3" height="1.22" fill="#74add1"/><rect x="272.4" y="459.58" width="59.3" height="1.22" fill="#4575b4"/><rect x="272.4" y="460.75" width="59.3" height="3.57" fill="#4575b4"/><rect x="272.4" y="464.27" width="59.3" height="2.4" fill="#74add1"/><rect x="272.4" y="466.62" width="59.3" height="1.22" fill="#74add1"/><rect x="272.4" y="467.79" width="59.3" height="1.22" fill="#abd9e9"/><rect x="272.4" y="468.97" width="59.3" height="1.22" fill="#74add1"/><rect x="272.4" y="470.14" width="59.3" height="1.22" fill="#4575b4"/><rect x="272.4" y="471.31" width="59.3" height="1.22" fill="#74add1"/><rect x="272.4" y="472.48" width="59.3" height="2.63" fill="#74add1"/><rect x="272.4" y="475.07" width="59.3" height="2.02" fill="#4575b4"/><rect x="272.4" y="477.04" width="59.3" height="1.22" fill="#74add1"/><rect x="272.4" y="478.21" width="59.3" height="1.22" fill="#4575b4"/><rect x="272.4" y="479.39" width="59.3" height="3.57" fill="#4575b4"/><rect x="272.4" y="482.9" width="59.3" height="2.4" fill="#74add1"/><rect x="272.4" y="485.25" width="59.3" height="1.22" fill="#abd9e9"/><rect x="272.4" y="486.42" width="59.3" height="1.22" fill="#74add1"/><rect x="272.4" y="487.6" width="59.3" height="2.4" fill="#74add1"/><rect x="272.4" y="489.94" width="59.3" height="3.57" fill="#4575b4"/><rect x="272.4" y="493.46" width="59.3" height="1.22" fill="#4575b4"/><rect x="272.4" y="494.64" width="59.3" height="1.22" fill="#313695"/><rect x="272.4" y="495.81" width="59.3" height="1.61" fill="#313695"/><rect x="272.4" y="497.37" width="59.3" height="1.61" fill="#4575b4"/><rect x="272.4" y="498.94" width="59.3" height="1.61" fill="#313695"/><rect x="272.4" y="500.5" width="59.3" height="2.4" fill="#4575b4"/><rect x="272.4" y="502.85" width="59.3" height="1.22" fill="#abd9e9"/><rect x="272.4" y="504.02" width="59.3" height="1.22" fill="#74add1"/><rect x="272.4" y="505.19" width="59.3" height="1.93" fill="#e0f3f8"/><rect x="272.4" y="507.07" width="59.3" height="2.4" fill="#f6f0c6"/><rect x="272.4" y="509.42" width="59.3" height="1.69" fill="#fee090"/><rect x="272.4" y="511.06" width="59.3" height="1.22" fill="#f46d43"/><rect x="272.4" y="512.23" width="59.3" height="1.22" fill="#fdae61"/><rect x="272.4" y="513.41" width="59.3" height="1.22" fill="#f46d43"/><rect x="272.4" y="514.58" width="59.3" height="1.93" fill="#f6f0c6"/><rect x="272.4" y="516.46" width="59.3" height="1.69" fill="#fdae61"/><rect x="272.4" y="518.1" width="59.3" height="0.45" fill="#fee090"/><rect x="331.7" y="177.3" width="59.3" height="1.27" fill="#fdae61"/><rect x="331.7" y="178.52" width="59.3" height="1.69" fill="#fee090"/><rect x="331.7" y="180.16" width="59.3" height="3.1" fill="#fee090"/><rect x="331.7" y="183.21" width="59.3" height="2.4" fill="#fdae61"/><rect x="331.7" y="185.56" width="59.3" height="1.22" fill="#fee090"/><rect x="331.7" y="186.73" width="59.3" height="1.22" fill="#fdae61"/><rect x="331.7" y="187.9" width="59.3" height="1.69" fill="#f46d43"/><rect x="331.7" y="189.55" width="59.3" height="1.93" fill="#fdae61"/><rect x="331.7" y="191.42" width="59.3" height="1.93" fill="#fee090"/><rect x="331.7" y="193.3" width="59.3" height="2.87" fill="#f46d43"/><rect x="331.7" y="196.12" width="59.3" height="2.4" fill="#fdae61"/><rect x="331.7" y="198.46" width="59.3" height="2.87" fill="#f46d43"/><rect x="331.7" y="201.28" width="59.3" height="1.58" fill="#fdae61"/><rect x="331.7" y="202.8" width="59.3" height="1.58" fill="#f46d43"/><rect x="331.7" y="204.33" width="59.3" height="2.4" fill="#d73027"/><rect x="331.7" y="206.68" width="59.3" height="3.57" fill="#f46d43"/><rect x="331.7" y="210.19" width="59.3" height="2.4" fill="#d73027"/><rect x="331.7" y="212.54" width="59.3" height="1.93" fill="#fdae61"/><rect x="331.7" y="214.42" width="59.3" height="2.87" fill="#f46d43"/><rect x="331.7" y="217.23" width="59.3" height="1.61" fill="#f46d43"/><rect x="331.7" y="218.8" width="59.3" height="1.61" fill="#d73027"/><rect x="331.7" y="220.36" width="59.3" height="1.61" fill="#f46d43"/><rect x="331.7" y="221.93" width="59.3" height="3.57" fill="#f46d43"/><rect x="331.7" y="225.45" width="59.3" height="1.22" fill="#d73027"/><rect x="331.7" y="226.62" width="59.3" height="1.22" fill="#f46d43"/><rect x="331.7" y="227.79" width="59.3" height="3.1" fill="#f46d43"/><rect x="331.7" y="230.84" width="59.3" height="1.93" fill="#fdae61"/><rect x="331.7" y="232.72" width="59.3" height="2.4" fill="#f46d43"/><rect x="331.7" y="235.07" width="59.3" height="2.33" fill="#fdae61"/><rect x="331.7" y="237.35" width="59.3" height="1.22" fill="#fdae61"/><rect x="331.7" y="238.52" width="59.3" height="1.22" fill="#fee090"/><rect x="331.7" y="239.69" width="59.3" height="1.93" fill="#f46d43"/><rect x="331.7" y="241.57" width="59.3" height="2.87" fill="#d73027"/><rect x="331.7" y="244.39" width="59.3" height="1.22" fill="#f46d43"/><rect x="331.7" y="245.56" width="59.3" height="1.22" fill="#d73027"/><rect x="331.7" y="246.73" width="59.3" height="2.4" fill="#d73027"/><rect x="331.7" y="249.08" width="59.3" height="2.4" fill="#f46d43"/><rect x="331.7" y="251.42" width="59.3" height="2.4" fill="#d73027"/><rect x="331.7" y="253.77" width="59.3" height="2.4" fill="#f46d43"/><rect x="331.7" y="256.12" width="59.3" height="1.22" fill="#f46d43"/><rect x="331.7" y="257.29" width="59.3" height="1.22" fill="#fdae61"/><rect x="331.7" y="258.46" width="59.3" height="2.4" fill="#f46d43"/><rect x="331.7" y="260.81" width="59.3" height="1.22" fill="#fdae61"/><rect x="331.7" y="261.98" width="59.3" height="1.22" fill="#f46d43"/><rect x="331.7" y="263.16" width="59.3" height="1.22" fill="#fdae61"/><rect x="331.7" y="264.33" width="59.3" height="3.57" fill="#f46d43"/><rect x="331.7" y="267.85" width="59.3" height="1.22" fill="#f46d43"/><rect x="331.7" y="269.02" width="59.3" height="1.22" fill="#fdae61"/><rect x="331.7" y="270.19" width="59.3" height="2.4" fill="#fdae61"/><rect x="331.7" y="272.54" width="59.3" height="1.22" fill="#fdae61"/><rect x="331.7" y="273.71" width="59.3" height="1.22" fill="#fee090"/><rect x="331.7" y="274.89" width="59.3" height="1.22" fill="#fdae61"/><rect x="331.7" y="276.06" width="59.3" height="2.4" fill="#fee090"/><rect x="331.7" y="278.41" width="59.3" height="2.4" fill="#fdae61"/><rect x="331.7" y="280.75" width="59.3" height="1.22" fill="#fee090"/><rect x="331.7" y="281.93" width="59.3" height="1.22" fill="#fdae61"/><rect x="331.7" y="283.1" width="59.3" height="5.92" fill="#d73027"/><rect x="331.7" y="288.97" width="59.3" height="2.4" fill="#f46d43"/><rect x="331.7" y="291.31" width="59.3" height="1.3" fill="#d73027"/><rect x="331.7" y="292.56" width="59.3" height="1.3" fill="#ab0128"/><rect x="331.7" y="293.81" width="59.3" height="1.3" fill="#d73027"/><rect x="331.7" y="295.07" width="59.3" height="3.5" fill="#d73027"/><rect x="331.7" y="298.52" width="59.3" height="1.22" fill="#d73027"/><rect x="331.7" y="299.69" width="59.3" height="1.22" fill="#ab0128"/><rect x="331.7" y="300.87" width="59.3" height="1.22" fill="#f46d43"/><rect x="331.7" y="302.04" width="59.3" height="1.22" fill="#d73027"/><rect x="331.7" y="303.21" width="59.3" height="2.4" fill="#d73027"/><rect x="331.7" y="305.56" width="59.3" height="2.4" fill="#f46d43"/><rect x="331.7" y="307.9" width="59.3" height="1.22" fill="#f46d43"/><rect x="331.7" y="309.08" width="59.3" height="1.22" fill="#d73027"/><rect x="331.7" y="310.25" width="59.3" height="1.22" fill="#f46d43"/><rect x="331.7" y="311.42" width="59.3" height="3.57" fill="#f46d43"/><rect x="331.7" y="314.94" width="59.3" height="1.22" fill="#f46d43"/><rect x="331.7" y="316.12" width="59.3" height="1.22" fill="#d73027"/><rect x="331.7" y="317.29" width="59.3" height="3.57" fill="#f46d43"/><rect x="331.7" y="320.81" width="59.3" height="1.22" fill="#f46d43"/><rect x="331.7" y="321.98" width="59.3" height="1.22" fill="#fdae61"/><rect x="331.7" y="323.16" width="59.3" height="1.22" fill="#f46d43"/><rect x="331.7" y="324.33" width="59.3" height="3.57" fill="#f46d43"/><rect x="331.7" y="327.85" width="59.3" height="1.22" fill="#f46d43"/><rect x="331.7" y="329.02" width="59.3" height="1.22" fill="#fdae61"/><rect x="331.7" y="330.19" width="59.3" height="1.22" fill="#fdae61"/><rect x="331.7" y="331.37" width="59.3" height="1.22" fill="#f46d43"/><rect x="331.7" y="332.54" width="59.3" height="1.22" fill="#fdae61"/><rect x="331.7" y="333.71" width="59.3" height="1.22" fill="#f46d43"/><rect x="331.7" y="334.89" width="59.3" height="1.22" fill="#fdae61"/><rect x="331.7" y="336.06" width="59.3" height="1.22" fill="#f46d43"/><rect x="331.7" y="337.23" width="59.3" height="3.57" fill="#fdae61"/><rect x="331.7" y="340.75" width="59.3" height="1.22" fill="#f46d43"/><rect x="331.7" y="341.93" width="59.3" height="1.22" fill="#fdae61"/><rect x="331.7" y="343.1" width="59.3" height="1.22" fill="#f46d43"/><rect x="331.7" y="344.27" width="59.3" height="1.22" fill="#fdae61"/><rect x="331.7" y="345.45" width="59.3" height="1.22" fill="#f46d43"/><rect x="331.7" y="346.62" width="59.3" height="1.22" fill="#fdae61"/><rect x="331.7" y="347.79" width="59.3" height="3.57" fill="#f46d43"/><rect x="331.7" y="351.31" width="59.3" height="1.3" fill="#fdae61"/><rect x="331.7" y="352.56" width="59.3" height="1.3" fill="#f46d43"/><rect x="331.7" y="353.81" width="59.3" height="1.3" fill="#fdae61"/><rect x="331.7" y="355.07" width="59.3" height="2.33" fill="#f6f0c6"/><rect x="331.7" y="357.35" width="59.3" height="2.4" fill="#fee090"/><rect x="331.7" y="359.69" width="59.3" height="1.22" fill="#f46d43"/><rect x="331.7" y="360.87" width="59.3" height="1.22" fill="#d73027"/><rect x="331.7" y="362.04" width="59.3" height="3.57" fill="#d73027"/><rect x="331.7" y="365.56" width="59.3" height="1.22" fill="#d73027"/><rect x="331.7" y="366.73" width="59.3" height="1.22" fill="#f46d43"/><rect x="331.7" y="367.9" width="59.3" height="3.57" fill="#d73027"/><rect x="331.7" y="371.42" width="59.3" height="2.4" fill="#f46d43"/><rect x="331.7" y="373.77" width="59.3" height="1.22" fill="#fdae61"/><rect x="331.7" y="374.94" width="59.3" height="1.22" fill="#f46d43"/><rect x="331.7" y="376.12" width="59.3" height="2.4" fill="#d73027"/><rect x="331.7" y="378.46" width="59.3" height="1.22" fill="#d73027"/><rect x="331.7" y="379.64" width="59.3" height="1.22" fill="#ab0128"/><rect x="331.7" y="380.81" width="59.3" height="1.22" fill="#d73027"/><rect x="331.7" y="381.98" width="59.3" height="1.61" fill="#ab0128"/><rect x="331.7" y="383.55" width="59.3" height="1.61" fill="#d73027"/><rect x="331.7" y="385.11" width="59.3" height="1.61" fill="#ab0128"/><rect x="331.7" y="386.68" width="59.3" height="3.57" fill="#d73027"/><rect x="331.7" y="390.19" width="59.3" height="1.22" fill="#f46d43"/><rect x="331.7" y="391.37" width="59.3" height="1.22" fill="#d73027"/><rect x="331.7" y="392.54" width="59.3" height="1.22" fill="#f46d43"/><rect x="331.7" y="393.71" width="59.3" height="3.57" fill="#d73027"/><rect x="331.7" y="397.23" width="59.3" height="1.22" fill="#d73027"/><rect x="331.7" y="398.41" width="59.3" height="1.22" fill="#ab0128"/><rect x="331.7" y="399.58" width="59.3" height="1.22" fill="#d73027"/><rect x="331.7" y="400.75" width="59.3" height="2.4" fill="#f46d43"/><rect x="331.7" y="403.1" width="59.3" height="2.4" fill="#d73027"/><rect x="331.7" y="405.45" width="59.3" height="1.22" fill="#f46d43"/><rect x="331.7" y="406.62" width="59.3" height="1.22" fill="#d73027"/><rect x="331.7" y="407.79" width="59.3" height="2.4" fill="#d73027"/><rect x="331.7" y="410.14" width="59.3" height="4.98" fill="#fee090"/><rect x="331.7" y="415.07" width="59.3" height="0.45" fill="#fee090"/><rect x="331.7" y="415.47" width="59.3" height="1.58" fill="#fdae61"/><rect x="331.7" y="416.99" width="59.3" height="1.55" fill="#fdae61"/><rect x="331.7" y="418.5" width="59.3" height="1.55" fill="#f46d43"/><rect x="331.7" y="420" width="59.3" height="1.55" fill="#fdae61"/><rect x="331.7" y="421.5" width="59.3" height="2.35" fill="#fdae61"/><rect x="331.7" y="423.8" width="59.3" height="1.25" fill="#f6f0c6"/><rect x="331.7" y="425" width="59.3" height="1.25" fill="#fee090"/><rect x="331.7" y="426.19" width="59.3" height="2.35" fill="#fee090"/><rect x="331.7" y="428.49" width="59.3" height="2.35" fill="#fdae61"/><rect x="331.7" y="430.79" width="59.3" height="1.55" fill="#f6f0c6"/><rect x="331.7" y="432.29" width="59.3" height="1.55" fill="#fee090"/><rect x="331.7" y="433.79" width="59.3" height="1.26" fill="#f6f0c6"/><rect x="331.7" y="435" width="59.3" height="1.26" fill="#e0f3f8"/><rect x="331.7" y="436.21" width="59.3" height="2.35" fill="#fdae61"/><rect x="331.7" y="438.51" width="59.3" height="2.35" fill="#f6f0c6"/><rect x="331.7" y="440.81" width="59.3" height="1.14" fill="#fee090"/><rect x="331.7" y="441.9" width="59.3" height="1.14" fill="#f6f0c6"/><rect x="331.7" y="442.99" width="59.3" height="3.26" fill="#f6f0c6"/><rect x="331.7" y="446.21" width="59.3" height="1.55" fill="#abd9e9"/><rect x="331.7" y="447.71" width="59.3" height="1.55" fill="#e0f3f8"/><rect x="331.7" y="449.21" width="59.3" height="3.15" fill="#f6f0c6"/><rect x="331.7" y="452.31" width="59.3" height="1.55" fill="#fee090"/><rect x="331.7" y="453.81" width="59.3" height="3.94" fill="#f6f0c6"/><rect x="331.7" y="457.7" width="59.3" height="1.55" fill="#abd9e9"/><rect x="331.7" y="459.2" width="59.3" height="2.35" fill="#f6f0c6"/><rect x="331.7" y="461.5" width="59.3" height="2.35" fill="#fee090"/><rect x="331.7" y="463.8" width="59.3" height="1.25" fill="#f6f0c6"/><rect x="331.7" y="465" width="59.3" height="1.25" fill="#e0f3f8"/><rect x="331.7" y="466.2" width="59.3" height="2.35" fill="#abd9e9"/><rect x="331.7" y="468.5" width="59.3" height="2.35" fill="#f6f0c6"/><rect x="331.7" y="470.8" width="59.3" height="1.55" fill="#abd9e9"/><rect x="331.7" y="472.3" width="59.3" height="3.15" fill="#f6f0c6"/><rect x="331.7" y="475.39" width="59.3" height="0.52" fill="#fee090"/><rect x="331.7" y="475.87" width="59.3" height="3.57" fill="#f6f0c6"/><rect x="331.7" y="479.39" width="59.3" height="1.22" fill="#abd9e9"/><rect x="331.7" y="480.56" width="59.3" height="1.22" fill="#74add1"/><rect x="331.7" y="481.73" width="59.3" height="1.22" fill="#74add1"/><rect x="331.7" y="482.9" width="59.3" height="1.22" fill="#abd9e9"/><rect x="331.7" y="484.08" width="59.3" height="2.4" fill="#abd9e9"/><rect x="331.7" y="486.42" width="59.3" height="3.57" fill="#74add1"/><rect x="331.7" y="489.94" width="59.3" height="1.22" fill="#abd9e9"/><rect x="331.7" y="491.12" width="59.3" height="1.22" fill="#e0f3f8"/><rect x="331.7" y="492.29" width="59.3" height="3.57" fill="#e0f3f8"/><rect x="331.7" y="495.81" width="59.3" height="1.93" fill="#74add1"/><rect x="331.7" y="497.69" width="59.3" height="1.46" fill="#e0f3f8"/><rect x="331.7" y="499.09" width="59.3" height="1.46" fill="#abd9e9"/><rect x="331.7" y="500.5" width="59.3" height="1.93" fill="#4575b4"/><rect x="331.7" y="502.38" width="59.3" height="2.87" fill="#e0f3f8"/><rect x="331.7" y="505.19" width="59.3" height="2.4" fill="#74add1"/><rect x="331.7" y="507.54" width="59.3" height="2.4" fill="#f6f0c6"/><rect x="331.7" y="509.89" width="59.3" height="2.4" fill="#fee090"/><rect x="331.7" y="512.23" width="59.3" height="1.22" fill="#fee090"/><rect x="331.7" y="513.41" width="59.3" height="1.22" fill="#fdae61"/><rect x="331.7" y="514.58" width="59.3" height="1.22" fill="#fdae61"/><rect x="331.7" y="515.75" width="59.3" height="1.22" fill="#fee090"/><rect x="331.7" y="516.93" width="59.3" height="1.62" fill="#f6f0c6"/><rect x="391" y="177.3" width="59.3" height="1.97" fill="#e0f3f8"/><rect x="391" y="179.22" width="59.3" height="2.4" fill="#f6f0c6"/><rect x="391" y="181.57" width="59.3" height="2.87" fill="#fee090"/><rect x="391" y="184.39" width="59.3" height="1.93" fill="#fdae61"/><rect x="391" y="186.26" width="59.3" height="5.21" fill="#fee090"/><rect x="391" y="191.42" width="59.3" height="1.22" fill="#fdae61"/><rect x="391" y="192.6" width="59.3" height="7.09" fill="#fee090"/><rect x="391" y="199.64" width="59.3" height="2.4" fill="#fdae61"/><rect x="391" y="201.98" width="59.3" height="1.22" fill="#fee090"/><rect x="391" y="203.16" width="59.3" height="1.22" fill="#fdae61"/><rect x="391" y="204.33" width="59.3" height="2.4" fill="#fdae61"/><rect x="391" y="206.68" width="59.3" height="3.57" fill="#f46d43"/><rect x="391" y="210.19" width="59.3" height="2.87" fill="#fdae61"/><rect x="391" y="213.01" width="59.3" height="1.93" fill="#fdae61"/><rect x="391" y="214.89" width="59.3" height="3.57" fill="#fee090"/><rect x="391" y="218.41" width="59.3" height="2.4" fill="#fdae61"/><rect x="391" y="220.75" width="59.3" height="1.22" fill="#fdae61"/><rect x="391" y="221.93" width="59.3" height="1.22" fill="#fee090"/><rect x="391" y="223.1" width="59.3" height="2.4" fill="#fee090"/><rect x="391" y="225.45" width="59.3" height="3.1" fill="#fdae61"/><rect x="391" y="228.5" width="59.3" height="1.22" fill="#fee090"/><rect x="391" y="229.67" width="59.3" height="1.22" fill="#fdae61"/><rect x="391" y="230.84" width="59.3" height="4.27" fill="#fdae61"/><rect x="391" y="235.07" width="59.3" height="2.33" fill="#f6f0c6"/><rect x="391" y="237.35" width="59.3" height="2.4" fill="#fee090"/><rect x="391" y="239.69" width="59.3" height="2.4" fill="#fdae61"/><rect x="391" y="242.04" width="59.3" height="5.92" fill="#f46d43"/><rect x="391" y="247.9" width="59.3" height="1.69" fill="#f46d43"/><rect x="391" y="249.55" width="59.3" height="2.4" fill="#fdae61"/><rect x="391" y="251.89" width="59.3" height="1.93" fill="#f46d43"/><rect x="391" y="253.77" width="59.3" height="2.4" fill="#fdae61"/><rect x="391" y="256.12" width="59.3" height="1.22" fill="#fee090"/><rect x="391" y="257.29" width="59.3" height="1.22" fill="#fdae61"/><rect x="391" y="258.46" width="59.3" height="8.26" fill="#fee090"/><rect x="391" y="266.68" width="59.3" height="1.22" fill="#fdae61"/><rect x="391" y="267.85" width="59.3" height="1.22" fill="#fee090"/><rect x="391" y="269.02" width="59.3" height="2.4" fill="#f6f0c6"/><rect x="391" y="271.37" width="59.3" height="2.4" fill="#e0f3f8"/><rect x="391" y="273.71" width="59.3" height="2.4" fill="#f6f0c6"/><rect x="391" y="276.06" width="59.3" height="1.22" fill="#abd9e9"/><rect x="391" y="277.23" width="59.3" height="1.22" fill="#e0f3f8"/><rect x="391" y="278.41" width="59.3" height="1.22" fill="#abd9e9"/><rect x="391" y="279.58" width="59.3" height="2.4" fill="#e0f3f8"/><rect x="391" y="281.93" width="59.3" height="2.4" fill="#fdae61"/><rect x="391" y="284.27" width="59.3" height="4.74" fill="#f46d43"/><rect x="391" y="288.97" width="59.3" height="1.22" fill="#fdae61"/><rect x="391" y="290.14" width="59.3" height="1.22" fill="#f46d43"/><rect x="391" y="291.31" width="59.3" height="1.3" fill="#f46d43"/><rect x="391" y="292.56" width="59.3" height="1.3" fill="#fdae61"/><rect x="391" y="293.81" width="59.3" height="1.3" fill="#f46d43"/><rect x="391" y="295.07" width="59.3" height="1.78" fill="#d73027"/><rect x="391" y="296.79" width="59.3" height="1.78" fill="#f46d43"/><rect x="391" y="298.52" width="59.3" height="2.4" fill="#d73027"/><rect x="391" y="300.87" width="59.3" height="2.4" fill="#f46d43"/><rect x="391" y="303.21" width="59.3" height="1.22" fill="#f46d43"/><rect x="391" y="304.39" width="59.3" height="1.22" fill="#fdae61"/><rect x="391" y="305.56" width="59.3" height="2.4" fill="#fdae61"/><rect x="391" y="307.9" width="59.3" height="1.22" fill="#f46d43"/><rect x="391" y="309.08" width="59.3" height="1.22" fill="#fdae61"/><rect x="391" y="310.25" width="59.3" height="1.22" fill="#fdae61"/><rect x="391" y="311.42" width="59.3" height="1.22" fill="#fee090"/><rect x="391" y="312.6" width="59.3" height="1.22" fill="#fee090"/><rect x="391" y="313.77" width="59.3" height="1.22" fill="#fdae61"/><rect x="391" y="314.94" width="59.3" height="2.4" fill="#fdae61"/><rect x="391" y="317.29" width="59.3" height="1.22" fill="#f46d43"/><rect x="391" y="318.46" width="59.3" height="1.22" fill="#fdae61"/><rect x="391" y="319.64" width="59.3" height="3.57" fill="#fdae61"/><rect x="391" y="323.16" width="59.3" height="1.22" fill="#fdae61"/><rect x="391" y="324.33" width="59.3" height="1.22" fill="#f46d43"/><rect x="391" y="325.5" width="59.3" height="1.22" fill="#fdae61"/><rect x="391" y="326.68" width="59.3" height="3.57" fill="#fdae61"/><rect x="391" y="330.19" width="59.3" height="1.22" fill="#fee090"/><rect x="391" y="331.37" width="59.3" height="1.22" fill="#fdae61"/><rect x="391" y="332.54" width="59.3" height="2.4" fill="#f6f0c6"/><rect x="391" y="334.89" width="59.3" height="3.57" fill="#f6f0c6"/><rect x="391" y="338.41" width="59.3" height="1.22" fill="#fdae61"/><rect x="391" y="339.58" width="59.3" height="1.22" fill="#fee090"/><rect x="391" y="340.75" width="59.3" height="1.22" fill="#f46d43"/><rect x="391" y="341.93" width="59.3" height="1.22" fill="#fdae61"/><rect x="391" y="343.1" width="59.3" height="3.57" fill="#fee090"/><rect x="391" y="346.62" width="59.3" height="1.22" fill="#fee090"/><rect x="391" y="347.79" width="59.3" height="1.22" fill="#fdae61"/><rect x="391" y="348.97" width="59.3" height="1.22" fill="#fee090"/><rect x="391" y="350.14" width="59.3" height="2.4" fill="#f6f0c6"/><rect x="391" y="352.48" width="59.3" height="2.63" fill="#fee090"/><rect x="391" y="355.07" width="59.3" height="1.86" fill="#f6f0c6"/><rect x="391" y="356.88" width="59.3" height="2.4" fill="#abd9e9"/><rect x="391" y="359.22" width="59.3" height="1.69" fill="#f6f0c6"/><rect x="391" y="360.87" width="59.3" height="2.4" fill="#fdae61"/><rect x="391" y="363.21" width="59.3" height="1.22" fill="#f46d43"/><rect x="391" y="364.39" width="59.3" height="1.22" fill="#fdae61"/><rect x="391" y="365.56" width="59.3" height="2.4" fill="#fdae61"/><rect x="391" y="367.9" width="59.3" height="2.4" fill="#f46d43"/><rect x="391" y="370.25" width="59.3" height="2.4" fill="#fdae61"/><rect x="391" y="372.6" width="59.3" height="3.57" fill="#f46d43"/><rect x="391" y="376.12" width="59.3" height="2.4" fill="#d73027"/><rect x="391" y="378.46" width="59.3" height="1.42" fill="#ab0128"/><rect x="391" y="379.83" width="59.3" height="1.42" fill="#d73027"/><rect x="391" y="381.2" width="59.3" height="1.42" fill="#ab0128"/><rect x="391" y="382.57" width="59.3" height="1.42" fill="#d73027"/><rect x="391" y="383.94" width="59.3" height="1.42" fill="#ab0128"/><rect x="391" y="385.31" width="59.3" height="1.42" fill="#d73027"/><rect x="391" y="386.68" width="59.3" height="2.4" fill="#f46d43"/><rect x="391" y="389.02" width="59.3" height="1.22" fill="#fdae61"/><rect x="391" y="390.19" width="59.3" height="1.22" fill="#f46d43"/><rect x="391" y="391.37" width="59.3" height="1.22" fill="#f46d43"/><rect x="391" y="392.54" width="59.3" height="1.22" fill="#fdae61"/><rect x="391" y="393.71" width="59.3" height="1.22" fill="#f46d43"/><rect x="391" y="394.89" width="59.3" height="2.4" fill="#fdae61"/><rect x="391" y="397.23" width="59.3" height="1.22" fill="#fdae61"/><rect x="391" y="398.41" width="59.3" height="1.22" fill="#f46d43"/><rect x="391" y="399.58" width="59.3" height="1.22" fill="#fdae61"/><rect x="391" y="400.75" width="59.3" height="1.22" fill="#d73027"/><rect x="391" y="401.93" width="59.3" height="1.22" fill="#f46d43"/><rect x="391" y="403.1" width="59.3" height="2.4" fill="#d73027"/><rect x="391" y="405.45" width="59.3" height="1.22" fill="#ab0128"/><rect x="391" y="406.62" width="59.3" height="1.22" fill="#d73027"/><rect x="391" y="407.79" width="59.3" height="2.4" fill="#d73027"/><rect x="391" y="410.14" width="59.3" height="2.4" fill="#e0f3f8"/><rect x="391" y="412.48" width="59.3" height="1.34" fill="#abd9e9"/><rect x="391" y="413.78" width="59.3" height="1.34" fill="#e0f3f8"/><rect x="391" y="415.07" width="59.3" height="2.33" fill="#f6f0c6"/><rect x="391" y="417.35" width="59.3" height="2.4" fill="#e0f3f8"/><rect x="391" y="419.69" width="59.3" height="1.22" fill="#abd9e9"/><rect x="391" y="420.87" width="59.3" height="1.22" fill="#e0f3f8"/><rect x="391" y="422.04" width="59.3" height="2.4" fill="#e0f3f8"/><rect x="391" y="424.39" width="59.3" height="2.4" fill="#abd9e9"/><rect x="391" y="426.73" width="59.3" height="1.22" fill="#e0f3f8"/><rect x="391" y="427.9" width="59.3" height="1.22" fill="#abd9e9"/><rect x="391" y="429.08" width="59.3" height="2.4" fill="#abd9e9"/><rect x="391" y="431.42" width="59.3" height="1.22" fill="#74add1"/><rect x="391" y="432.6" width="59.3" height="1.22" fill="#abd9e9"/><rect x="391" y="433.77" width="59.3" height="4.74" fill="#e0f3f8"/><rect x="391" y="438.46" width="59.3" height="1.22" fill="#abd9e9"/><rect x="391" y="439.64" width="59.3" height="1.22" fill="#e0f3f8"/><rect x="391" y="440.81" width="59.3" height="1.22" fill="#74add1"/><rect x="391" y="441.98" width="59.3" height="1.22" fill="#abd9e9"/><rect x="391" y="443.16" width="59.3" height="3.57" fill="#abd9e9"/><rect x="391" y="446.68" width="59.3" height="2.4" fill="#74add1"/><rect x="391" y="449.02" width="59.3" height="1.22" fill="#abd9e9"/><rect x="391" y="450.19" width="59.3" height="1.22" fill="#e0f3f8"/><rect x="391" y="451.37" width="59.3" height="2.4" fill="#74add1"/><rect x="391" y="453.71" width="59.3" height="1.22" fill="#abd9e9"/><rect x="391" y="454.89" width="59.3" height="1.22" fill="#74add1"/><rect x="391" y="456.06" width="59.3" height="3.57" fill="#74add1"/><rect x="391" y="459.58" width="59.3" height="2.4" fill="#abd9e9"/><rect x="391" y="461.93" width="59.3" height="1.22" fill="#74add1"/><rect x="391" y="463.1" width="59.3" height="1.22" fill="#abd9e9"/><rect x="391" y="464.27" width="59.3" height="1.22" fill="#74add1"/><rect x="391" y="465.45" width="59.3" height="2.4" fill="#abd9e9"/><rect x="391" y="467.79" width="59.3" height="1.22" fill="#4575b4"/><rect x="391" y="468.97" width="59.3" height="1.22" fill="#74add1"/><rect x="391" y="470.14" width="59.3" height="1.22" fill="#4575b4"/><rect x="391" y="471.31" width="59.3" height="3.8" fill="#74add1"/><rect x="391" y="475.07" width="59.3" height="0.85" fill="#e0f3f8"/><rect x="391" y="475.87" width="59.3" height="4.74" fill="#e0f3f8"/><rect x="391" y="480.56" width="59.3" height="2.4" fill="#4575b4"/><rect x="391" y="482.9" width="59.3" height="1.22" fill="#4575b4"/><rect x="391" y="484.08" width="59.3" height="1.22" fill="#74add1"/><rect x="391" y="485.25" width="59.3" height="2.4" fill="#74add1"/><rect x="391" y="487.6" width="59.3" height="1.22" fill="#4575b4"/><rect x="391" y="488.77" width="59.3" height="1.22" fill="#74add1"/><rect x="391" y="489.94" width="59.3" height="1.22" fill="#74add1"/><rect x="391" y="491.12" width="59.3" height="1.22" fill="#abd9e9"/><rect x="391" y="492.29" width="59.3" height="2.4" fill="#4575b4"/><rect x="391" y="494.64" width="59.3" height="1.69" fill="#74add1"/><rect x="391" y="496.28" width="59.3" height="1.93" fill="#4575b4"/><rect x="391" y="498.16" width="59.3" height="1.93" fill="#abd9e9"/><rect x="391" y="500.03" width="59.3" height="1.69" fill="#313695"/><rect x="391" y="501.68" width="59.3" height="1.69" fill="#e0f3f8"/><rect x="391" y="503.32" width="59.3" height="1.93" fill="#abd9e9"/><rect x="391" y="505.19" width="59.3" height="2.4" fill="#74add1"/><rect x="391" y="507.54" width="59.3" height="1.93" fill="#abd9e9"/><rect x="391" y="509.42" width="59.3" height="1.69" fill="#e0f3f8"/><rect x="391" y="511.06" width="59.3" height="1.69" fill="#74add1"/><rect x="391" y="512.7" width="59.3" height="1.93" fill="#e0f3f8"/><rect x="391" y="514.58" width="59.3" height="1.93" fill="#abd9e9"/><rect x="391" y="516.46" width="59.3" height="1.69" fill="#e0f3f8"/><rect x="391" y="518.1" width="59.3" height="0.45" fill="#ffffff"/><rect x="450.3" y="177.3" width="59.3" height="1.27" fill="#fdae61"/><rect x="450.3" y="178.52" width="59.3" height="1.22" fill="#f46d43"/><rect x="450.3" y="179.69" width="59.3" height="1.22" fill="#fdae61"/><rect x="450.3" y="180.87" width="59.3" height="2.4" fill="#fdae61"/><rect x="450.3" y="183.21" width="59.3" height="1.22" fill="#fdae61"/><rect x="450.3" y="184.39" width="59.3" height="1.22" fill="#fee090"/><rect x="450.3" y="185.56" width="59.3" height="1.22" fill="#fdae61"/><rect x="450.3" y="186.73" width="59.3" height="2.4" fill="#fee090"/><rect x="450.3" y="189.08" width="59.3" height="1.46" fill="#fdae61"/><rect x="450.3" y="190.49" width="59.3" height="1.46" fill="#fee090"/><rect x="450.3" y="191.89" width="59.3" height="2.4" fill="#fdae61"/><rect x="450.3" y="194.24" width="59.3" height="3.1" fill="#f46d43"/><rect x="450.3" y="197.29" width="59.3" height="1.69" fill="#fdae61"/><rect x="450.3" y="198.93" width="59.3" height="1.93" fill="#d73027"/><rect x="450.3" y="200.81" width="59.3" height="1.22" fill="#f46d43"/><rect x="450.3" y="201.98" width="59.3" height="1.22" fill="#d73027"/><rect x="450.3" y="203.16" width="59.3" height="1.22" fill="#f46d43"/><rect x="450.3" y="204.33" width="59.3" height="5.92" fill="#ab0128"/><rect x="450.3" y="210.19" width="59.3" height="2.4" fill="#d73027"/><rect x="450.3" y="212.54" width="59.3" height="2.4" fill="#f46d43"/><rect x="450.3" y="214.89" width="59.3" height="2.4" fill="#fdae61"/><rect x="450.3" y="217.23" width="59.3" height="1.22" fill="#fdae61"/><rect x="450.3" y="218.41" width="59.3" height="1.22" fill="#fee090"/><rect x="450.3" y="219.58" width="59.3" height="1.22" fill="#fdae61"/><rect x="450.3" y="220.75" width="59.3" height="3.57" fill="#f46d43"/><rect x="450.3" y="224.27" width="59.3" height="2.4" fill="#fdae61"/><rect x="450.3" y="226.62" width="59.3" height="2.87" fill="#f46d43"/><rect x="450.3" y="229.43" width="59.3" height="2.87" fill="#fdae61"/><rect x="450.3" y="232.25" width="59.3" height="1.46" fill="#fee090"/><rect x="450.3" y="233.66" width="59.3" height="1.46" fill="#fdae61"/><rect x="450.3" y="235.07" width="59.3" height="1.19" fill="#fee090"/><rect x="450.3" y="236.21" width="59.3" height="1.19" fill="#fdae61"/><rect x="450.3" y="237.35" width="59.3" height="2.4" fill="#fee090"/><rect x="450.3" y="239.69" width="59.3" height="2.4" fill="#fdae61"/><rect x="450.3" y="242.04" width="59.3" height="5.92" fill="#d73027"/><rect x="450.3" y="247.9" width="59.3" height="1.69" fill="#f46d43"/><rect x="450.3" y="249.55" width="59.3" height="2.4" fill="#d73027"/><rect x="450.3" y="251.89" width="59.3" height="1.93" fill="#f46d43"/><rect x="450.3" y="253.77" width="59.3" height="2.87" fill="#fdae61"/><rect x="450.3" y="256.59" width="59.3" height="1.93" fill="#fee090"/><rect x="450.3" y="258.46" width="59.3" height="7.09" fill="#f6f0c6"/><rect x="450.3" y="265.5" width="59.3" height="1.22" fill="#fdae61"/><rect x="450.3" y="266.68" width="59.3" height="1.22" fill="#fee090"/><rect x="450.3" y="267.85" width="59.3" height="2.4" fill="#fee090"/><rect x="450.3" y="270.19" width="59.3" height="1.93" fill="#abd9e9"/><rect x="450.3" y="272.07" width="59.3" height="1.22" fill="#abd9e9"/><rect x="450.3" y="273.24" width="59.3" height="1.22" fill="#74add1"/><rect x="450.3" y="274.42" width="59.3" height="1.22" fill="#e0f3f8"/><rect x="450.3" y="275.59" width="59.3" height="1.22" fill="#abd9e9"/><rect x="450.3" y="276.76" width="59.3" height="1.46" fill="#abd9e9"/><rect x="450.3" y="278.17" width="59.3" height="1.46" fill="#e0f3f8"/><rect x="450.3" y="279.58" width="59.3" height="2.4" fill="#e0f3f8"/><rect x="450.3" y="281.93" width="59.3" height="2.4" fill="#f46d43"/><rect x="450.3" y="284.27" width="59.3" height="1.61" fill="#d73027"/><rect x="450.3" y="285.84" width="59.3" height="1.61" fill="#ab0128"/><rect x="450.3" y="287.4" width="59.3" height="1.61" fill="#d73027"/><rect x="450.3" y="288.97" width="59.3" height="3.57" fill="#d73027"/><rect x="450.3" y="292.48" width="59.3" height="2.63" fill="#f46d43"/><rect x="450.3" y="295.07" width="59.3" height="3.5" fill="#ab0128"/><rect x="450.3" y="298.52" width="59.3" height="2.4" fill="#d73027"/><rect x="450.3" y="300.87" width="59.3" height="1.22" fill="#f46d43"/><rect x="450.3" y="302.04" width="59.3" height="1.22" fill="#d73027"/><rect x="450.3" y="303.21" width="59.3" height="3.57" fill="#f6f0c6"/><rect x="450.3" y="306.73" width="59.3" height="1.46" fill="#fee090"/><rect x="450.3" y="308.14" width="59.3" height="1.46" fill="#fdae61"/><rect x="450.3" y="309.55" width="59.3" height="2.4" fill="#fdae61"/><rect x="450.3" y="311.89" width="59.3" height="2.4" fill="#f6f0c6"/><rect x="450.3" y="314.24" width="59.3" height="2.4" fill="#abd9e9"/><rect x="450.3" y="316.59" width="59.3" height="1.93" fill="#e0f3f8"/><rect x="450.3" y="318.46" width="59.3" height="1.46" fill="#abd9e9"/><rect x="450.3" y="319.87" width="59.3" height="1.46" fill="#e0f3f8"/><rect x="450.3" y="321.28" width="59.3" height="2.4" fill="#fdae61"/><rect x="450.3" y="323.63" width="59.3" height="1.58" fill="#fdae61"/><rect x="450.3" y="325.15" width="59.3" height="1.58" fill="#f46d43"/><rect x="450.3" y="326.68" width="59.3" height="3.57" fill="#fdae61"/><rect x="450.3" y="330.19" width="59.3" height="2.4" fill="#e0f3f8"/><rect x="450.3" y="332.54" width="59.3" height="1.22" fill="#e0f3f8"/><rect x="450.3" y="333.71" width="59.3" height="1.22" fill="#abd9e9"/><rect x="450.3" y="334.89" width="59.3" height="1.22" fill="#abd9e9"/><rect x="450.3" y="336.06" width="59.3" height="1.22" fill="#e0f3f8"/><rect x="450.3" y="337.23" width="59.3" height="2.4" fill="#f6f0c6"/><rect x="450.3" y="339.58" width="59.3" height="1.22" fill="#abd9e9"/><rect x="450.3" y="340.75" width="59.3" height="1.22" fill="#74add1"/><rect x="450.3" y="341.93" width="59.3" height="3.57" fill="#74add1"/><rect x="450.3" y="345.45" width="59.3" height="1.22" fill="#abd9e9"/><rect x="450.3" y="346.62" width="59.3" height="1.22" fill="#74add1"/><rect x="450.3" y="347.79" width="59.3" height="1.22" fill="#abd9e9"/><rect x="450.3" y="348.97" width="59.3" height="3.57" fill="#74add1"/><rect x="450.3" y="352.48" width="59.3" height="1.34" fill="#4575b4"/><rect x="450.3" y="353.78" width="59.3" height="1.34" fill="#74add1"/><rect x="450.3" y="355.07" width="59.3" height="1.16" fill="#f6f0c6"/><rect x="450.3" y="356.17" width="59.3" height="4.04" fill="#4575b4"/><rect x="450.3" y="360.16" width="59.3" height="1.93" fill="#abd9e9"/><rect x="450.3" y="362.04" width="59.3" height="3.57" fill="#e0f3f8"/><rect x="450.3" y="365.56" width="59.3" height="2.4" fill="#f6f0c6"/><rect x="450.3" y="367.9" width="59.3" height="2.4" fill="#fee090"/><rect x="450.3" y="370.25" width="59.3" height="2.4" fill="#fdae61"/><rect x="450.3" y="372.6" width="59.3" height="1.22" fill="#e0f3f8"/><rect x="450.3" y="373.77" width="59.3" height="1.22" fill="#abd9e9"/><rect x="450.3" y="374.94" width="59.3" height="3.57" fill="#e0f3f8"/><rect x="450.3" y="378.46" width="59.3" height="2.4" fill="#abd9e9"/><rect x="450.3" y="380.81" width="59.3" height="1.22" fill="#fee090"/><rect x="450.3" y="381.98" width="59.3" height="1.22" fill="#fdae61"/><rect x="450.3" y="383.16" width="59.3" height="2.4" fill="#abd9e9"/><rect x="450.3" y="385.5" width="59.3" height="2.4" fill="#74add1"/><rect x="450.3" y="387.85" width="59.3" height="2.4" fill="#abd9e9"/><rect x="450.3" y="390.19" width="59.3" height="1.22" fill="#e0f3f8"/><rect x="450.3" y="391.37" width="59.3" height="1.22" fill="#abd9e9"/><rect x="450.3" y="392.54" width="59.3" height="2.87" fill="#74add1"/><rect x="450.3" y="395.36" width="59.3" height="1.58" fill="#abd9e9"/><rect x="450.3" y="396.88" width="59.3" height="1.58" fill="#74add1"/><rect x="450.3" y="398.41" width="59.3" height="2.4" fill="#4575b4"/><rect x="450.3" y="400.75" width="59.3" height="2.4" fill="#f46d43"/><rect x="450.3" y="403.1" width="59.3" height="2.4" fill="#d73027"/><rect x="450.3" y="405.45" width="59.3" height="1.58" fill="#f46d43"/><rect x="450.3" y="406.97" width="59.3" height="1.58" fill="#d73027"/><rect x="450.3" y="408.5" width="59.3" height="1.69" fill="#fdae61"/><rect x="450.3" y="410.14" width="59.3" height="4.98" fill="#f6f0c6"/><rect x="450.3" y="415.07" width="59.3" height="5.85" fill="#abd9e9"/><rect x="450.3" y="420.87" width="59.3" height="1.22" fill="#e0f3f8"/><rect x="450.3" y="422.04" width="59.3" height="1.22" fill="#abd9e9"/><rect x="450.3" y="423.21" width="59.3" height="1.22" fill="#4575b4"/><rect x="450.3" y="424.39" width="59.3" height="1.22" fill="#74add1"/><rect x="450.3" y="425.56" width="59.3" height="2.4" fill="#e0f3f8"/><rect x="450.3" y="427.9" width="59.3" height="2.4" fill="#abd9e9"/><rect x="450.3" y="430.25" width="59.3" height="1.22" fill="#74add1"/><rect x="450.3" y="431.42" width="59.3" height="1.22" fill="#4575b4"/><rect x="450.3" y="432.6" width="59.3" height="1.22" fill="#74add1"/><rect x="450.3" y="433.77" width="59.3" height="1.22" fill="#abd9e9"/><rect x="450.3" y="434.94" width="59.3" height="1.22" fill="#e0f3f8"/><rect x="450.3" y="436.12" width="59.3" height="2.4" fill="#f6f0c6"/><rect x="450.3" y="438.46" width="59.3" height="2.4" fill="#abd9e9"/><rect x="450.3" y="440.81" width="59.3" height="1.22" fill="#abd9e9"/><rect x="450.3" y="441.98" width="59.3" height="1.22" fill="#e0f3f8"/><rect x="450.3" y="443.16" width="59.3" height="2.4" fill="#e0f3f8"/><rect x="450.3" y="445.5" width="59.3" height="1.22" fill="#4575b4"/><rect x="450.3" y="446.68" width="59.3" height="1.22" fill="#74add1"/><rect x="450.3" y="447.85" width="59.3" height="1.22" fill="#4575b4"/><rect x="450.3" y="449.02" width="59.3" height="1.69" fill="#e0f3f8"/><rect x="450.3" y="450.66" width="59.3" height="3.1" fill="#fee090"/><rect x="450.3" y="453.71" width="59.3" height="1.22" fill="#abd9e9"/><rect x="450.3" y="454.89" width="59.3" height="1.22" fill="#e0f3f8"/><rect x="450.3" y="456.06" width="59.3" height="1.22" fill="#abd9e9"/><rect x="450.3" y="457.23" width="59.3" height="1.22" fill="#74add1"/><rect x="450.3" y="458.41" width="59.3" height="1.22" fill="#abd9e9"/><rect x="450.3" y="459.58" width="59.3" height="1.22" fill="#74add1"/><rect x="450.3" y="460.75" width="59.3" height="3.57" fill="#fee090"/><rect x="450.3" y="464.27" width="59.3" height="2.4" fill="#f6f0c6"/><rect x="450.3" y="466.62" width="59.3" height="3.57" fill="#abd9e9"/><rect x="450.3" y="470.14" width="59.3" height="1.22" fill="#fee090"/><rect x="450.3" y="471.31" width="59.3" height="1.22" fill="#fdae61"/><rect x="450.3" y="472.48" width="59.3" height="1.34" fill="#abd9e9"/><rect x="450.3" y="473.78" width="59.3" height="1.34" fill="#e0f3f8"/><rect x="450.3" y="475.07" width="59.3" height="0.85" fill="#fee090"/><rect x="450.3" y="475.87" width="59.3" height="1.69" fill="#fdae61"/><rect x="450.3" y="477.51" width="59.3" height="1.93" fill="#f46d43"/><rect x="450.3" y="479.39" width="59.3" height="1.93" fill="#abd9e9"/><rect x="450.3" y="481.26" width="59.3" height="2.4" fill="#74add1"/><rect x="450.3" y="483.61" width="59.3" height="1.69" fill="#4575b4"/><rect x="450.3" y="485.25" width="59.3" height="3.57" fill="#74add1"/><rect x="450.3" y="488.77" width="59.3" height="1.61" fill="#74add1"/><rect x="450.3" y="490.33" width="59.3" height="1.61" fill="#abd9e9"/><rect x="450.3" y="491.9" width="59.3" height="1.61" fill="#74add1"/><rect x="450.3" y="493.46" width="59.3" height="2.4" fill="#74add1"/><rect x="450.3" y="495.81" width="59.3" height="1.93" fill="#abd9e9"/><rect x="450.3" y="497.69" width="59.3" height="2.4" fill="#74add1"/><rect x="450.3" y="500.03" width="59.3" height="2.87" fill="#4575b4"/><rect x="450.3" y="502.85" width="59.3" height="4.74" fill="#313695"/><rect x="450.3" y="507.54" width="59.3" height="2.4" fill="#74add1"/><rect x="450.3" y="509.89" width="59.3" height="1.93" fill="#abd9e9"/><rect x="450.3" y="511.76" width="59.3" height="1.46" fill="#4575b4"/><rect x="450.3" y="513.17" width="59.3" height="1.46" fill="#74add1"/><rect x="450.3" y="514.58" width="59.3" height="1.46" fill="#4575b4"/><rect x="450.3" y="515.99" width="59.3" height="2.56" fill="#ffffff"/></g><path d="M127.94 177.76L138.99 177.76M133.19 178.55L138.27 178.55M133.19 179.73L143.69 179.73M133.19 178.55L133.19 179.73M127.94 179.14L133.19 179.14M127.94 177.76L127.94 179.14M121.61 178.45L127.94 178.45M126.71 181.44L143.11 181.44M126.71 182.96L137.27 182.96M126.71 181.44L126.71 182.96M121.61 182.2L126.71 182.2M121.61 178.45L121.61 182.2M118.71 180.33L121.61 180.33M128.1 184.14L135.21 184.14M135.81 185.02L142.95 185.02M135.81 186.09L141.69 186.09M135.81 185.02L135.81 186.09M128.1 185.55L135.81 185.55M128.1 184.14L128.1 185.55M122.66 184.85L128.1 184.85M122.66 187.55L131.02 187.55M122.66 184.85L122.66 187.55M118.71 186.2L122.66 186.2M118.71 180.33L118.71 186.2M114.7 183.26L118.71 183.26M132.04 189.2L139.18 189.2M137.6 190.46L143.65 190.46M137.6 191.45L145.2 191.45M137.6 190.46L137.6 191.45M132.04 190.96L137.6 190.96M132.04 189.2L132.04 190.96M124.81 190.08L132.04 190.08M138.29 192.37L143.52 192.37M138.29 193.31L144.39 193.31M138.29 192.37L138.29 193.31M132.66 192.84L138.29 192.84M137.37 194.69L142.18 194.69M137.37 195.79L143.66 195.79M137.37 194.69L137.37 195.79M132.66 195.24L137.37 195.24M132.66 192.84L132.66 195.24M129.78 194.04L132.66 194.04M129.78 196.85L139.35 196.85M129.78 194.04L129.78 196.85M124.81 195.45L129.78 195.45M124.81 190.08L124.81 195.45M119.2 192.76L124.81 192.76M135.29 198L143.5 198M140.94 199.19L144.02 199.19M140.94 200.32L145.35 200.32M140.94 199.19L140.94 200.32M135.29 199.75L140.94 199.75M135.29 198L135.29 199.75M128.82 198.88L135.29 198.88M134.02 201.25L138.99 201.25M139.2 202.15L142.89 202.15M139.2 203.25L145.6 203.25M139.2 202.15L139.2 203.25M134.02 202.7L139.2 202.7M134.02 201.25L134.02 202.7M128.82 201.97L134.02 201.97M128.82 198.88L128.82 201.97M119.2 200.43L128.82 200.43M119.2 192.76L119.2 200.43M114.7 196.59L119.2 196.59M114.7 183.26L114.7 196.59M133.4 204.87L140.35 204.87M139.72 206.08L142.9 206.08M139.72 207.11L143.13 207.11M139.72 206.08L139.72 207.11M133.4 206.59L139.72 206.59M133.4 204.87L133.4 206.59M129.51 205.73L133.4 205.73M129.51 208.69L140.44 208.69M129.51 205.73L129.51 208.69M117.73 207.21L129.51 207.21M121.39 210.15L134.24 210.15M121.39 211.4L141.98 211.4M121.39 210.15L121.39 211.4M117.73 210.77L121.39 210.77M117.73 207.21L117.73 210.77M108.8 208.99L117.73 208.99M127.85 212.76L142.88 212.76M139 213.98L142.13 213.98M139 215.15L141.95 215.15M139 213.98L139 215.15M136.04 214.56L139 214.56M136.04 216.43L140.84 216.43M136.04 214.56L136.04 216.43M127.85 215.49L136.04 215.49M127.85 212.76L127.85 215.49M117.37 214.13L127.85 214.13M124.46 217.6L131.49 217.6M128.06 218.76L134.26 218.76M128.06 220.19L140.1 220.19M128.06 218.76L128.06 220.19M124.46 219.48L128.06 219.48M124.46 217.6L124.46 219.48M117.37 218.54L124.46 218.54M117.37 214.13L117.37 218.54M108.8 216.33L117.37 216.33M108.8 208.99L108.8 216.33M106.4 189.93L114.7 189.93M106.4 212.66L108.8 212.66M106.4 189.93L106.4 212.66M135.51 221.33L139.86 221.33M135.51 222.47L140.87 222.47M135.51 221.33L135.51 222.47M130.7 221.9L135.51 221.9M133.68 223.6L144.71 223.6M133.68 224.81L138.99 224.81M133.68 223.6L133.68 224.81M130.7 224.2L133.68 224.2M130.7 221.9L130.7 224.2M116.76 223.05L130.7 223.05M120.77 226.3L142.18 226.3M120.77 227.44L138.35 227.44M120.77 226.3L120.77 227.44M116.76 226.87L120.77 226.87M116.76 223.05L116.76 226.87M112.79 224.96L116.76 224.96M129.87 228.78L142.3 228.78M129.87 230.31L137.29 230.31M129.87 228.78L129.87 230.31M119.07 229.54L129.87 229.54M140.54 231.55L144.65 231.55M140.54 232.91L142.85 232.91M140.54 231.55L140.54 232.91M136.32 232.23L140.54 232.23M136.32 234.49L141.41 234.49M136.32 232.23L136.32 234.49M129.04 233.36L136.32 233.36M135.62 235.91L142.05 235.91M135.62 236.9L145.37 236.9M135.62 235.91L135.62 236.9M129.04 236.41L135.62 236.41M129.04 233.36L129.04 236.41M119.07 234.88L129.04 234.88M119.07 229.54L119.07 234.88M112.79 232.21L119.07 232.21M112.79 224.96L112.79 232.21M105.4 228.59L112.79 228.59M133.7 237.81L141.36 237.81M133.7 238.75L143.64 238.75M133.7 237.81L133.7 238.75M123.54 238.28L133.7 238.28M123.54 239.8L138.89 239.8M123.54 238.28L123.54 239.8M117.92 239.04L123.54 239.04M132.55 241.21L143.21 241.21M140.82 242.31L146 242.31M140.82 243.26L143.54 243.26M140.82 242.31L140.82 243.26M138.45 242.79L140.82 242.79M138.45 244.13L142 244.13M138.45 242.79L138.45 244.13M132.55 243.46L138.45 243.46M132.55 241.21L132.55 243.46M126.65 242.33L132.55 242.33M134.85 244.86L144.16 244.86M134.85 246.04L143.06 246.04M134.85 244.86L134.85 246.04M126.65 245.45L134.85 245.45M126.65 242.33L126.65 245.45M117.92 243.89L126.65 243.89M117.92 239.04L117.92 243.89M112.98 241.47L117.92 241.47M138.92 247.31L145.53 247.31M138.92 248.34L142.56 248.34M138.92 247.31L138.92 248.34M132.2 247.83L138.92 247.83M135.6 249.24L142.9 249.24M135.6 250.21L141.87 250.21M135.6 249.24L135.6 250.21M132.2 249.72L135.6 249.72M132.2 247.83L132.2 249.72M124.31 248.78L132.2 248.78M124.31 251.54L142.12 251.54M124.31 248.78L124.31 251.54M120.95 250.16L124.31 250.16M139.53 252.99L144.27 252.99M139.53 254.45L142.12 254.45M139.53 252.99L139.53 254.45M133.4 253.72L139.53 253.72M136.01 255.61L144.33 255.61M139.3 256.83L144.27 256.83M139.3 258.12L144.11 258.12M139.3 256.83L139.3 258.12M136.01 257.48L139.3 257.48M136.01 255.61L136.01 257.48M133.4 256.54L136.01 256.54M133.4 253.72L133.4 256.54M126.44 255.13L133.4 255.13M134.57 259.43L142.3 259.43M140.41 260.88L145.5 260.88M140.41 262.07L144.32 262.07M140.41 260.88L140.41 262.07M137.39 261.48L140.41 261.48M137.39 263.32L143.2 263.32M137.39 261.48L137.39 263.32M134.57 262.4L137.39 262.4M134.57 259.43L134.57 262.4M126.44 260.91L134.57 260.91M126.44 255.13L126.44 260.91M120.95 258.02L126.44 258.02M120.95 250.16L120.95 258.02M112.98 254.09L120.95 254.09M112.98 241.47L112.98 254.09M105.4 247.78L112.98 247.78M105.4 228.59L105.4 247.78M97.1 201.3L106.4 201.3M97.1 238.18L105.4 238.18M97.1 201.3L97.1 238.18M137.06 264.73L143.34 264.73M141.36 265.83L143.72 265.83M141.36 267.01L143.56 267.01M141.36 265.83L141.36 267.01M137.06 266.42L141.36 266.42M137.06 264.73L137.06 266.42M128.85 265.57L137.06 265.57M128.85 268.69L135.26 268.69M128.85 265.57L128.85 268.69M118.56 267.13L128.85 267.13M129.67 270.3L136.55 270.3M129.67 271.38L141.16 271.38M129.67 270.3L129.67 271.38M118.56 270.84L129.67 270.84M118.56 267.13L118.56 270.84M110.8 268.99L118.56 268.99M139.44 272.33L142.66 272.33M139.44 273.28L144.16 273.28M139.44 272.33L139.44 273.28M132.61 272.81L139.44 272.81M135.43 274L143.68 274M135.43 274.97L142.63 274.97M135.43 274L135.43 274.97M132.61 274.48L135.43 274.48M132.61 272.81L132.61 274.48M127.48 273.65L132.61 273.65M127.48 276.27L133.79 276.27M127.48 273.65L127.48 276.27M122.61 274.96L127.48 274.96M130.85 277.48L136.51 277.48M130.85 278.44L142.69 278.44M130.85 277.48L130.85 278.44M122.61 277.96L130.85 277.96M122.61 274.96L122.61 277.96M110.8 276.46L122.61 276.46M110.8 268.99L110.8 276.46M101.4 272.72L110.8 272.72M119.47 279.3L134 279.3M119.47 280.53L139.64 280.53M119.47 279.3L119.47 280.53M111.95 279.92L119.47 279.92M111.95 282.08L125.42 282.08M111.95 279.92L111.95 282.08M106.44 281L111.95 281M120.89 283.29L138.29 283.29M132.39 284.44L137.69 284.44M132.39 285.41L137.56 285.41M132.39 284.44L132.39 285.41M124.78 284.93L132.39 284.93M124.78 286.13L136.96 286.13M124.78 284.93L124.78 286.13M120.89 285.53L124.78 285.53M120.89 283.29L120.89 285.53M116.14 284.41L120.89 284.41M125.75 287.4L135.36 287.4M125.75 288.64L138.23 288.64M125.75 287.4L125.75 288.64M116.14 288.02L125.75 288.02M116.14 284.41L116.14 288.02M106.44 286.22L116.14 286.22M106.44 281L106.44 286.22M101.4 283.61L106.44 283.61M101.4 272.72L101.4 283.61M87.9 219.74L97.1 219.74M87.9 278.16L101.4 278.16M87.9 219.74L87.9 278.16M113.82 289.41L129.24 289.41M113.82 290.41L128.99 290.41M113.82 289.41L113.82 290.41M106.01 289.91L113.82 289.91M117.83 291.43L127.08 291.43M117.83 292.56L135.14 292.56M117.83 291.43L117.83 292.56M113.49 291.99L117.83 291.99M126.87 293.98L137.72 293.98M126.87 295.08L141.96 295.08M126.87 293.98L126.87 295.08M123.01 294.53L126.87 294.53M123.01 295.88L136.78 295.88M123.01 294.53L123.01 295.88M113.49 295.2L123.01 295.2M113.49 291.99L113.49 295.2M106.01 293.6L113.49 293.6M106.01 289.91L106.01 293.6M100.1 291.76L106.01 291.76M136.74 296.58L140.81 296.58M136.74 297.54L144.22 297.54M136.74 296.58L136.74 297.54M133.32 297.06L136.74 297.06M135.85 298.57L144.53 298.57M135.85 299.73L143.51 299.73M135.85 298.57L135.85 299.73M133.32 299.15L135.85 299.15M133.32 297.06L133.32 299.15M126.14 298.11L133.32 298.11M130.49 301.11L139.71 301.11M130.49 302.5L139.59 302.5M130.49 301.11L130.49 302.5M126.14 301.81L130.49 301.81M126.14 298.11L126.14 301.81M116.6 299.96L126.14 299.96M138.94 303.88L143.23 303.88M138.94 305.2L143.34 305.2M138.94 303.88L138.94 305.2M131.94 304.54L138.94 304.54M136.5 306.77L142.8 306.77M138.86 307.98L143.38 307.98M140.02 308.82L143.3 308.82M140.02 309.84L144.47 309.84M140.02 308.82L140.02 309.84M138.86 309.33L140.02 309.33M138.86 307.98L138.86 309.33M136.5 308.66L138.86 308.66M136.5 306.77L136.5 308.66M131.94 307.71L136.5 307.71M131.94 304.54L131.94 307.71M127.23 306.13L131.94 306.13M134.2 311.23L144.33 311.23M134.2 312.5L140.54 312.5M134.2 311.23L134.2 312.5M127.23 311.86L134.2 311.86M127.23 306.13L127.23 311.86M116.6 309L127.23 309M116.6 299.96L116.6 309M100.1 304.48L116.6 304.48M100.1 291.76L100.1 304.48M114.69 313.84L125.38 313.84M114.69 315.3L139.46 315.3M114.69 313.84L114.69 315.3M96.1 314.57L114.69 314.57M125.65 316.6L141.28 316.6M125.65 317.62L138.82 317.62M125.65 316.6L125.65 317.62M116.71 317.11L125.65 317.11M127.48 318.54L135.96 318.54M127.48 319.52L134.97 319.52M127.48 318.54L127.48 319.52M116.71 319.03L127.48 319.03M116.71 317.11L116.71 319.03M110.51 318.07L116.71 318.07M116.29 320.61L134.6 320.61M116.29 321.65L135.67 321.65M116.29 320.61L116.29 321.65M110.51 321.13L116.29 321.13M110.51 318.07L110.51 321.13M96.1 319.6L110.51 319.6M96.1 314.57L96.1 319.6M80.1 298.12L100.1 298.12M80.1 317.08L96.1 317.08M80.1 298.12L80.1 317.08M64.4 248.95L87.9 248.95M64.4 307.6L80.1 307.6M64.4 248.95L64.4 307.6M126.87 322.78L135.83 322.78M126.87 324.04L135.97 324.04M126.87 322.78L126.87 324.04M123.39 323.41L126.87 323.41M127.99 325.09L143.68 325.09M127.99 326L137.77 326M127.99 325.09L127.99 326M123.39 325.54L127.99 325.54M123.39 323.41L123.39 325.54M113.06 324.48L123.39 324.48M132.48 327.13L137.7 327.13M132.48 328.5L139.06 328.5M132.48 327.13L132.48 328.5M125.1 327.81L132.48 327.81M125.1 329.87L135.41 329.87M125.1 327.81L125.1 329.87M113.06 328.84L125.1 328.84M113.06 324.48L113.06 328.84M99.37 326.66L113.06 326.66M105.39 331.32L123.86 331.32M126.19 332.48L137.75 332.48M126.19 333.48L133.99 333.48M126.19 332.48L126.19 333.48M120.2 332.98L126.19 332.98M120.2 334.66L131.27 334.66M120.2 332.98L120.2 334.66M105.39 333.82L120.2 333.82M105.39 331.32L105.39 333.82M99.37 332.57L105.39 332.57M99.37 326.66L99.37 332.57M95.1 329.62L99.37 329.62M133.51 335.91L139.76 335.91M133.51 337.07L144.63 337.07M133.51 335.91L133.51 337.07M122.23 336.49L133.51 336.49M122.23 338.29L137.4 338.29M122.23 336.49L122.23 338.29M112.67 337.39L122.23 337.39M136.71 339.5L145.09 339.5M138.15 340.38L143.47 340.38M138.15 341.45L142.54 341.45M138.15 340.38L138.15 341.45M136.71 340.92L138.15 340.92M136.71 339.5L136.71 340.92M130.63 340.21L136.71 340.21M130.63 342.99L138.78 342.99M130.63 340.21L130.63 342.99M123.65 341.6L130.63 341.6M133.28 344.05L143.16 344.05M135.62 345.03L143.68 345.03M135.62 345.96L141.08 345.96M135.62 345.03L135.62 345.96M133.28 345.5L135.62 345.5M133.28 344.05L133.28 345.5M123.65 344.77L133.28 344.77M123.65 341.6L123.65 344.77M120.47 343.19L123.65 343.19M133.79 346.68L141.04 346.68M133.79 347.72L138.36 347.72M133.79 346.68L133.79 347.72M127.32 347.2L133.79 347.2M127.32 348.65L142.08 348.65M127.32 347.2L127.32 348.65M120.47 347.93L127.32 347.93M120.47 343.19L120.47 347.93M112.67 345.56L120.47 345.56M112.67 337.39L112.67 345.56M95.1 341.47L112.67 341.47M95.1 329.62L95.1 341.47M122.61 349.71L134.92 349.71M133.02 351.31L142.18 351.31M133.02 352.66L144.48 352.66M133.02 351.31L133.02 352.66M122.61 351.98L133.02 351.98M122.61 349.71L122.61 351.98M112.34 350.85L122.61 350.85M131.43 353.56L142.57 353.56M131.43 354.47L138.73 354.47M131.43 353.56L131.43 354.47M122.1 354.01L131.43 354.01M133.08 355.7L141.03 355.7M141.44 356.85L145.5 356.85M141.44 357.87L145.18 357.87M141.44 356.85L141.44 357.87M136.32 357.36L141.44 357.36M136.32 359.14L140.76 359.14M136.32 357.36L136.32 359.14M133.08 358.25L136.32 358.25M133.08 355.7L133.08 358.25M122.1 356.98L133.08 356.98M122.1 354.01L122.1 356.98M112.34 355.49L122.1 355.49M112.34 350.85L112.34 355.49M106.2 353.17L112.34 353.17M123.67 360.3L141.92 360.3M130.18 361.14L137.2 361.14M130.18 362.09L138.53 362.09M130.18 361.14L130.18 362.09M123.67 361.62L130.18 361.62M123.67 360.3L123.67 361.62M114.06 360.96L123.67 360.96M114.06 363.37L128.26 363.37M114.06 360.96L114.06 363.37M106.2 362.17L114.06 362.17M106.2 353.17L106.2 362.17M85.1 335.54L95.1 335.54M85.1 357.67L106.2 357.67M85.1 335.54L85.1 357.67M132.83 364.4L139.44 364.4M135.26 365.3L143.03 365.3M135.26 366.31L140.42 366.31M135.26 365.3L135.26 366.31M132.83 365.8L135.26 365.8M132.83 364.4L132.83 365.8M128.28 365.1L132.83 365.1M132.25 367.62L140.43 367.62M138.51 369.11L141.43 369.11M138.51 370.1L144.66 370.1M138.51 369.11L138.51 370.1M132.25 369.61L138.51 369.61M132.25 367.62L132.25 369.61M128.28 368.61L132.25 368.61M128.28 365.1L128.28 368.61M122.7 366.86L128.28 366.86M137.81 371.03L145.15 371.03M137.81 371.95L142.09 371.95M137.81 371.03L137.81 371.95M130.33 371.49L137.81 371.49M133.34 372.85L142.67 372.85M133.34 373.99L142.96 373.99M133.34 372.85L133.34 373.99M130.33 373.42L133.34 373.42M130.33 371.49L130.33 373.42M127.94 372.45L130.33 372.45M135.37 375.39L142.58 375.39M140.11 376.55L146 376.55M140.11 377.46L143.63 377.46M140.11 376.55L140.11 377.46M135.37 377.01L140.11 377.01M135.37 375.39L135.37 377.01M127.94 376.2L135.37 376.2M127.94 372.45L127.94 376.2M122.7 374.33L127.94 374.33M122.7 366.86L122.7 374.33M116.74 370.59L122.7 370.59M130.66 378.77L136.44 378.77M136.04 380.24L140.92 380.24M137.51 381.35L143.02 381.35M137.51 382.27L143.97 382.27M137.51 381.35L137.51 382.27M136.04 381.81L137.51 381.81M136.04 380.24L136.04 381.81M130.66 381.02L136.04 381.02M130.66 378.77L130.66 381.02M121.35 379.9L130.66 379.9M128.7 383.49L136.83 383.49M135.47 384.62L139.33 384.62M135.47 385.78L143.39 385.78M135.47 384.62L135.47 385.78M128.7 385.2L135.47 385.2M128.7 383.49L128.7 385.2M121.35 384.35L128.7 384.35M121.35 379.9L121.35 384.35M116.74 382.12L121.35 382.12M116.74 370.59L116.74 382.12M102.1 376.36L116.74 376.36M125.22 387.33L136.79 387.33M129.42 388.98L141.79 388.98M129.42 390.18L136.86 390.18M129.42 388.98L129.42 390.18M125.22 389.58L129.42 389.58M125.22 387.33L125.22 389.58M121.79 388.46L125.22 388.46M130.36 391.47L142.29 391.47M137.97 393.1L141.88 393.1M137.97 394.63L143.02 394.63M137.97 393.1L137.97 394.63M130.36 393.86L137.97 393.86M130.36 391.47L130.36 393.86M126.08 392.67L130.36 392.67M135.53 395.8L141.67 395.8M135.53 397.03L145.27 397.03M135.53 395.8L135.53 397.03M126.08 396.41L135.53 396.41M126.08 392.67L126.08 396.41M121.79 394.54L126.08 394.54M121.79 388.46L121.79 394.54M108.95 391.5L121.79 391.5M121.42 398.66L141.06 398.66M121.42 399.8L142.57 399.8M121.42 398.66L121.42 399.8M112.61 399.23L121.42 399.23M132.35 400.77L137.26 400.77M132.35 401.77L139.96 401.77M132.35 400.77L132.35 401.77M120.68 401.27L132.35 401.27M126.92 402.8L133.25 402.8M134.45 404.12L139.88 404.12M134.45 405.05L144.01 405.05M134.45 404.12L134.45 405.05M131.87 404.59L134.45 404.59M131.87 405.65L140.15 405.65M131.87 404.59L131.87 405.65M126.92 405.12L131.87 405.12M126.92 402.8L126.92 405.12M120.68 403.96L126.92 403.96M120.68 401.27L120.68 403.96M112.61 402.61L120.68 402.61M112.61 399.23L112.61 402.61M108.95 400.92L112.61 400.92M108.95 391.5L108.95 400.92M102.1 396.21L108.95 396.21M102.1 376.36L102.1 396.21M113.2 406.88L130.08 406.88M119.57 408.15L140.78 408.15M119.57 409.08L133.89 409.08M119.57 408.15L119.57 409.08M113.2 408.61L119.57 408.61M113.2 406.88L113.2 408.61M84.1 386.28L102.1 386.28M84.1 407.74L113.2 407.74M84.1 386.28L84.1 407.74M67.5 346.61L85.1 346.61M67.5 397.01L84.1 397.01M67.5 346.61L67.5 397.01M41.4 278.28L64.4 278.28M41.4 371.81L67.5 371.81M41.4 278.28L41.4 371.81M134.53 410.14L140.36 410.14M134.53 411.43L142.66 411.43M134.53 410.14L134.53 411.43M124.98 410.79L134.53 410.79M124.98 412.96L140.07 412.96M124.98 410.79L124.98 412.96M119.07 411.87L124.98 411.87M119.07 414.58L131.69 414.58M119.07 411.87L119.07 414.58M114.36 413.23L119.07 413.23M141.19 415.91L144.04 415.91M141.19 417L144.86 417M141.19 415.91L141.19 417M136.02 416.45L141.19 416.45M136.02 418.01L140.67 418.01M136.02 416.45L136.02 418.01M131.47 417.23L136.02 417.23M142.86 418.81L145.28 418.81M142.86 419.75L144.57 419.75M142.86 418.81L142.86 419.75M141.37 419.28L142.86 419.28M141.37 421.07L145.79 421.07M141.37 419.28L141.37 421.07M137.45 420.18L141.37 420.18M137.45 422.71L140.92 422.71M137.45 420.18L137.45 422.71M131.47 421.44L137.45 421.44M131.47 417.23L131.47 421.44M129.92 419.34L131.47 419.34M135.35 424.23L145.27 424.23M140.95 425.24L143.33 425.24M140.95 426.16L144.77 426.16M140.95 425.24L140.95 426.16M135.35 425.7L140.95 425.7M135.35 424.23L135.35 425.7M129.92 424.97L135.35 424.97M129.92 419.34L129.92 424.97M123.88 422.15L129.92 422.15M130.31 427.58L139.25 427.58M140.95 428.97L143.46 428.97M140.95 429.89L144.06 429.89M140.95 428.97L140.95 429.89M136.33 429.43L140.95 429.43M136.33 430.83L141.96 430.83M136.33 429.43L136.33 430.83M130.31 430.13L136.33 430.13M130.31 427.58L130.31 430.13M123.88 428.86L130.31 428.86M123.88 422.15L123.88 428.86M114.36 425.51L123.88 425.51M114.36 413.23L114.36 425.51M111 419.37L114.36 419.37M122.36 432.16L141.31 432.16M128.18 433.64L143.88 433.64M128.18 435.22L136.37 435.22M128.18 433.64L128.18 435.22M122.36 434.43L128.18 434.43M122.36 432.16L122.36 434.43M115.94 433.29L122.36 433.29M140.81 436.36L143.98 436.36M140.81 437.32L143.61 437.32M140.81 436.36L140.81 437.32M135.64 436.84L140.81 436.84M135.64 438.5L142.89 438.5M135.64 436.84L135.64 438.5M127.79 437.67L135.64 437.67M136.76 439.36L144.43 439.36M136.76 440.39L140.69 440.39M136.76 439.36L136.76 440.39M132.67 439.88L136.76 439.88M132.67 441.51L141.96 441.51M132.67 439.88L132.67 441.51M127.79 440.69L132.67 440.69M127.79 437.67L127.79 440.69M124.13 439.18L127.79 439.18M129.88 442.31L137.12 442.31M129.88 443.32L140.69 443.32M129.88 442.31L129.88 443.32M124.13 442.81L129.88 442.81M124.13 439.18L124.13 442.81M115.94 441L124.13 441M115.94 433.29L115.94 441M111 437.15L115.94 437.15M111 419.37L111 437.15M126.68 444.35L136.36 444.35M126.68 445.37L141.49 445.37M126.68 444.35L126.68 445.37M115.57 444.86L126.68 444.86M120.12 446.47L133.95 446.47M129.31 447.2L136.41 447.2M129.31 448.21L138.7 448.21M129.31 447.2L129.31 448.21M120.12 447.71L129.31 447.71M120.12 446.47L120.12 447.71M115.57 447.09L120.12 447.09M115.57 444.86L115.57 447.09M111 445.97L115.57 445.97M128.23 449.73L142.63 449.73M132.95 450.87L142.88 450.87M132.95 451.82L137.48 451.82M132.95 450.87L132.95 451.82M128.23 451.34L132.95 451.34M128.23 449.73L128.23 451.34M122.09 450.54L128.23 450.54M133.65 453.14L141.21 453.14M133.65 454.16L138.03 454.16M133.65 453.14L133.65 454.16M128.8 453.65L133.65 453.65M128.8 455L140.65 455M128.8 453.65L128.8 455M122.09 454.32L128.8 454.32M122.09 450.54L122.09 454.32M117.02 452.43L122.09 452.43M121.63 456.21L134.38 456.21M121.63 457.46L131.43 457.46M121.63 456.21L121.63 457.46M117.02 456.84L121.63 456.84M117.02 452.43L117.02 456.84M111 454.63L117.02 454.63M111 445.97L111 454.63M102.7 428.26L111 428.26M102.7 450.3L111 450.3M102.7 428.26L102.7 450.3M131.49 458.81L144.35 458.81M131.49 460.05L137.45 460.05M131.49 458.81L131.49 460.05M125.05 459.43L131.49 459.43M139.63 461.19L144.68 461.19M139.63 462.18L142.77 462.18M139.63 461.19L139.63 462.18M136.9 461.68L139.63 461.68M136.9 462.88L141.42 462.88M136.9 461.68L136.9 462.88M135.15 462.28L136.9 462.28M141.62 463.62L144.76 463.62M141.62 464.58L144.71 464.58M141.62 463.62L141.62 464.58M140.24 464.1L141.62 464.1M140.24 465.68L143.48 465.68M140.24 464.1L140.24 465.68M135.15 464.89L140.24 464.89M135.15 462.28L135.15 464.89M125.05 463.59L135.15 463.59M125.05 459.43L125.05 463.59M113.8 461.51L125.05 461.51M131.85 466.84L136.97 466.84M131.85 467.89L137.61 467.89M131.85 466.84L131.85 467.89M124.79 467.36L131.85 467.36M135.33 469.03L142.76 469.03M135.33 470.64L143.24 470.64M135.33 469.03L135.33 470.64M131.76 469.83L135.33 469.83M136.03 471.83L143.26 471.83M138.38 472.74L144.95 472.74M138.38 473.66L142.09 473.66M138.38 472.74L138.38 473.66M136.03 473.2L138.38 473.2M136.03 471.83L136.03 473.2M131.76 472.52L136.03 472.52M131.76 469.83L131.76 472.52M124.79 471.17L131.76 471.17M124.79 467.36L124.79 471.17M113.8 469.27L124.79 469.27M113.8 461.51L113.8 469.27M97.1 439.28L102.7 439.28M97.1 465.39L113.8 465.39M97.1 439.28L97.1 465.39M116.99 474.78L127.68 474.78M116.99 476.45L134.15 476.45M116.99 474.78L116.99 476.45M111 475.61L116.99 475.61M130.29 478.05L140.08 478.05M130.29 479.17L140.01 479.17M130.29 478.05L130.29 479.17M120.29 478.61L130.29 478.61M132.27 480.43L143.66 480.43M142.06 481.95L146 481.95M142.06 482.86L146 482.86M142.06 481.95L142.06 482.86M139.76 482.4L142.06 482.4M139.76 483.42L142.47 483.42M139.76 482.4L139.76 483.42M137.92 482.91L139.76 482.91M137.92 484.37L144.69 484.37M137.92 482.91L137.92 484.37M132.27 483.64L137.92 483.64M132.27 480.43L132.27 483.64M120.29 482.04L132.27 482.04M120.29 478.61L120.29 482.04M111 480.32L120.29 480.32M111 475.61L111 480.32M90.3 452.33L97.1 452.33M90.3 477.97L111 477.97M90.3 452.33L90.3 477.97M131.1 485.73L138.35 485.73M134.89 486.83L139.98 486.83M140.47 487.76L146 487.76M140.47 488.74L145.61 488.74M140.47 487.76L140.47 488.74M134.89 488.25L140.47 488.25M134.89 486.83L134.89 488.25M131.1 487.54L134.89 487.54M131.1 485.73L131.1 487.54M118.76 486.64L131.1 486.64M132.26 489.95L141.29 489.95M132.26 491.12L143.85 491.12M132.26 489.95L132.26 491.12M127.36 490.53L132.26 490.53M127.36 492.38L143.72 492.38M127.36 490.53L127.36 492.38M118.76 491.46L127.36 491.46M118.76 486.64L118.76 491.46M114.83 489.05L118.76 489.05M134.35 493.72L143.59 493.72M134.35 494.76L139.61 494.76M134.35 493.72L134.35 494.76M128.24 494.24L134.35 494.24M128.24 495.7L134.62 495.7M128.24 494.24L128.24 495.7M123.1 494.97L128.24 494.97M123.1 496.81L133.69 496.81M123.1 494.97L123.1 496.81M114.83 495.89L123.1 495.89M114.83 489.05L114.83 495.89M108.8 492.47L114.83 492.47M133.55 498.17L137.87 498.17M133.55 499.64L138.93 499.64M133.55 498.17L133.55 499.64M126.19 498.91L133.55 498.91M131.89 501.15L143.86 501.15M131.89 502.39L138.51 502.39M131.89 501.15L131.89 502.39M126.19 501.77L131.89 501.77M126.19 498.91L126.19 501.77M108.8 500.34L126.19 500.34M108.8 492.47L108.8 500.34M76.8 465.15L90.3 465.15M76.8 496.4L108.8 496.4M76.8 465.15L76.8 496.4M109.75 503.45L123.22 503.45M109.75 504.49L125.47 504.49M109.75 503.45L109.75 504.49M104.5 503.97L109.75 503.97M127.84 505.6L135.21 505.6M127.84 506.64L136.3 506.64M127.84 505.6L127.84 506.64M118.14 506.12L127.84 506.12M132.94 507.87L140.44 507.87M132.94 508.96L137.52 508.96M132.94 507.87L132.94 508.96M122.66 508.41L132.94 508.41M122.66 510.17L137.33 510.17M122.66 508.41L122.66 510.17M118.14 509.29L122.66 509.29M118.14 506.12L118.14 509.29M104.5 507.71L118.14 507.71M104.5 503.97L104.5 507.71M121.97 511.58L141.46 511.58M129.63 512.59L137.28 512.59M129.63 513.56L142.23 513.56M129.63 512.59L129.63 513.56M121.97 513.08L129.63 513.08M121.97 511.58L121.97 513.08M107.26 512.33L121.97 512.33M107.26 514.69L130.65 514.69M107.26 512.33L107.26 514.69M92.5 513.51L107.26 513.51M101.75 515.86L129.63 515.86M117.06 517.1L129 517.1M117.06 518.14L130.94 518.14M117.06 517.1L117.06 518.14M101.75 517.62L117.06 517.62M101.75 515.86L101.75 517.62M92.5 516.74L101.75 516.74M92.5 513.51L92.5 516.74M82.9 505.84L104.5 505.84M82.9 515.12L92.5 515.12M82.9 505.84L82.9 515.12M56.5 480.78L76.8 480.78M56.5 510.48L82.9 510.48M56.5 480.78L56.5 510.48M6 325.04L41.4 325.04M6 495.63L56.5 495.63M6 325.04L6 495.63" stroke="#000" stroke-width="1" fill="none"/><rect x="138.99" y="177.3" width="8.91" height="0.91" fill="#000"/><rect x="138.27" y="178.21" width="9.63" height="0.67" fill="#000"/><rect x="143.69" y="178.89" width="4.21" height="1.69" fill="#000"/><rect x="143.11" y="180.58" width="4.79" height="1.72" fill="#000"/><rect x="137.27" y="182.3" width="10.63" height="1.33" fill="#000"/><rect x="135.21" y="183.63" width="12.69" height="1.02" fill="#000"/><rect x="142.95" y="184.65" width="4.95" height="0.73" fill="#000"/><rect x="141.69" y="185.38" width="6.21" height="1.42" fill="#000"/><rect x="131.02" y="186.8" width="16.88" height="1.5" fill="#000"/><rect x="139.18" y="188.3" width="8.72" height="1.8" fill="#000"/><rect x="143.65" y="190.1" width="4.25" height="0.73" fill="#000"/><rect x="145.2" y="190.83" width="2.7" height="1.24" fill="#000"/><rect x="143.52" y="192.07" width="4.38" height="0.61" fill="#000"/><rect x="144.39" y="192.68" width="3.51" height="1.26" fill="#000"/><rect x="142.18" y="193.94" width="5.72" height="1.51" fill="#000"/><rect x="143.66" y="195.45" width="4.24" height="0.69" fill="#000"/><rect x="139.35" y="196.14" width="8.55" height="1.43" fill="#000"/><rect x="143.5" y="197.57" width="4.4" height="0.88" fill="#000"/><rect x="144.02" y="198.44" width="3.88" height="1.49" fill="#000"/><rect x="145.35" y="199.93" width="2.55" height="0.76" fill="#000"/><rect x="138.99" y="200.7" width="8.91" height="1.1" fill="#000"/><rect x="142.89" y="201.8" width="5.01" height="0.69" fill="#000"/><rect x="145.6" y="202.49" width="2.3" height="1.51" fill="#000"/><rect x="140.35" y="204" width="7.55" height="1.74" fill="#000"/><rect x="142.9" y="205.74" width="5" height="0.67" fill="#000"/><rect x="143.13" y="206.41" width="4.77" height="1.39" fill="#000"/><rect x="140.44" y="207.81" width="7.46" height="1.77" fill="#000"/><rect x="134.24" y="209.58" width="13.66" height="1.14" fill="#000"/><rect x="141.98" y="210.72" width="5.92" height="1.34" fill="#000"/><rect x="142.88" y="212.07" width="5.02" height="1.38" fill="#000"/><rect x="142.13" y="213.45" width="5.77" height="1.05" fill="#000"/><rect x="141.95" y="214.5" width="5.95" height="1.29" fill="#000"/><rect x="140.84" y="215.79" width="7.06" height="1.27" fill="#000"/><rect x="131.49" y="217.06" width="16.41" height="1.09" fill="#000"/><rect x="134.26" y="218.15" width="13.64" height="1.23" fill="#000"/><rect x="140.1" y="219.38" width="7.8" height="1.62" fill="#000"/><rect x="139.86" y="221" width="8.04" height="0.67" fill="#000"/><rect x="140.87" y="221.67" width="7.03" height="1.61" fill="#000"/><rect x="144.71" y="223.28" width="3.19" height="0.64" fill="#000"/><rect x="138.99" y="223.91" width="8.91" height="1.8" fill="#000"/><rect x="142.18" y="225.71" width="5.72" height="1.17" fill="#000"/><rect x="138.35" y="226.88" width="9.55" height="1.11" fill="#000"/><rect x="142.3" y="227.99" width="5.6" height="1.58" fill="#000"/><rect x="137.29" y="229.57" width="10.61" height="1.48" fill="#000"/><rect x="144.65" y="231.05" width="3.25" height="0.99" fill="#000"/><rect x="142.85" y="232.04" width="5.05" height="1.74" fill="#000"/><rect x="141.41" y="233.78" width="6.49" height="1.41" fill="#000"/><rect x="142.05" y="235.19" width="5.85" height="1.44" fill="#000"/><rect x="145.37" y="236.64" width="2.53" height="0.54" fill="#000"/><rect x="141.36" y="237.17" width="6.54" height="1.27" fill="#000"/><rect x="143.64" y="238.44" width="4.26" height="0.62" fill="#000"/><rect x="138.89" y="239.07" width="9.01" height="1.47" fill="#000"/><rect x="143.21" y="240.54" width="4.69" height="1.34" fill="#000"/><rect x="146" y="241.88" width="1.9" height="0.86" fill="#000"/><rect x="143.54" y="242.74" width="4.36" height="1.05" fill="#000"/><rect x="142" y="243.79" width="5.9" height="0.69" fill="#000"/><rect x="144.16" y="244.48" width="3.74" height="0.76" fill="#000"/><rect x="143.06" y="245.24" width="4.84" height="1.6" fill="#000"/><rect x="145.53" y="246.84" width="2.37" height="0.95" fill="#000"/><rect x="142.56" y="247.79" width="5.34" height="1.09" fill="#000"/><rect x="142.9" y="248.88" width="5" height="0.72" fill="#000"/><rect x="141.87" y="249.6" width="6.03" height="1.22" fill="#000"/><rect x="142.12" y="250.82" width="5.78" height="1.43" fill="#000"/><rect x="144.27" y="252.25" width="3.63" height="1.47" fill="#000"/><rect x="142.12" y="253.72" width="5.78" height="1.46" fill="#000"/><rect x="144.33" y="255.18" width="3.57" height="0.87" fill="#000"/><rect x="144.27" y="256.05" width="3.63" height="1.57" fill="#000"/><rect x="144.11" y="257.62" width="3.79" height="1" fill="#000"/><rect x="142.3" y="258.62" width="5.6" height="1.63" fill="#000"/><rect x="145.5" y="260.25" width="2.4" height="1.27" fill="#000"/><rect x="144.32" y="261.51" width="3.58" height="1.12" fill="#000"/><rect x="143.2" y="262.63" width="4.7" height="1.37" fill="#000"/><rect x="143.34" y="264" width="4.56" height="1.45" fill="#000"/><rect x="143.72" y="265.45" width="4.18" height="0.75" fill="#000"/><rect x="143.56" y="266.21" width="4.34" height="1.61" fill="#000"/><rect x="135.26" y="267.82" width="12.64" height="1.73" fill="#000"/><rect x="136.55" y="269.55" width="11.35" height="1.5" fill="#000"/><rect x="141.16" y="271.05" width="6.74" height="0.65" fill="#000"/><rect x="142.66" y="271.7" width="5.24" height="1.26" fill="#000"/><rect x="144.16" y="272.97" width="3.74" height="0.63" fill="#000"/><rect x="143.68" y="273.6" width="4.22" height="0.8" fill="#000"/><rect x="142.63" y="274.39" width="5.27" height="1.15" fill="#000"/><rect x="133.79" y="275.54" width="14.11" height="1.45" fill="#000"/><rect x="136.51" y="276.99" width="11.39" height="0.97" fill="#000"/><rect x="142.69" y="277.96" width="5.21" height="0.95" fill="#000"/><rect x="134" y="278.91" width="13.9" height="0.78" fill="#000"/><rect x="139.64" y="279.69" width="8.26" height="1.69" fill="#000"/><rect x="126.71" y="281.38" width="21.19" height="1.39" fill="#000"/><rect x="138.29" y="282.77" width="9.61" height="1.04" fill="#000"/><rect x="137.69" y="283.81" width="10.21" height="1.26" fill="#000"/><rect x="137.56" y="285.08" width="10.34" height="0.68" fill="#000"/><rect x="136.96" y="285.75" width="10.94" height="0.76" fill="#000"/><rect x="135.36" y="286.51" width="12.54" height="1.78" fill="#000"/><rect x="138.23" y="288.29" width="9.67" height="0.71" fill="#000"/><rect x="129.24" y="289" width="18.66" height="0.82" fill="#000"/><rect x="128.99" y="289.82" width="18.91" height="1.2" fill="#000"/><rect x="127.08" y="291.01" width="20.82" height="0.84" fill="#000"/><rect x="135.14" y="291.85" width="12.76" height="1.4" fill="#000"/><rect x="137.72" y="293.26" width="10.18" height="1.45" fill="#000"/><rect x="141.96" y="294.7" width="5.94" height="0.75" fill="#000"/><rect x="136.78" y="295.45" width="11.12" height="0.86" fill="#000"/><rect x="140.81" y="296.31" width="7.09" height="0.53" fill="#000"/><rect x="144.22" y="296.85" width="3.68" height="1.39" fill="#000"/><rect x="144.53" y="298.23" width="3.37" height="0.68" fill="#000"/><rect x="143.51" y="298.91" width="4.39" height="1.64" fill="#000"/><rect x="139.71" y="300.56" width="8.19" height="1.11" fill="#000"/><rect x="139.59" y="301.66" width="8.31" height="1.68" fill="#000"/><rect x="143.23" y="303.34" width="4.67" height="1.07" fill="#000"/><rect x="143.34" y="304.42" width="4.56" height="1.58" fill="#000"/><rect x="142.8" y="305.99" width="5.1" height="1.56" fill="#000"/><rect x="143.38" y="307.56" width="4.52" height="0.85" fill="#000"/><rect x="143.3" y="308.41" width="4.6" height="0.82" fill="#000"/><rect x="144.47" y="309.23" width="3.43" height="1.22" fill="#000"/><rect x="144.33" y="310.45" width="3.57" height="1.55" fill="#000"/><rect x="140.54" y="312" width="7.36" height="1" fill="#000"/><rect x="125.38" y="313" width="22.52" height="1.67" fill="#000"/><rect x="139.46" y="314.67" width="8.44" height="1.25" fill="#000"/><rect x="141.28" y="315.92" width="6.62" height="1.36" fill="#000"/><rect x="138.82" y="317.28" width="9.08" height="0.68" fill="#000"/><rect x="135.96" y="317.96" width="11.94" height="1.16" fill="#000"/><rect x="134.97" y="319.12" width="12.93" height="0.79" fill="#000"/><rect x="134.6" y="319.91" width="13.3" height="1.4" fill="#000"/><rect x="135.67" y="321.31" width="12.23" height="0.69" fill="#000"/><rect x="135.83" y="322" width="12.07" height="1.56" fill="#000"/><rect x="135.97" y="323.56" width="11.93" height="0.96" fill="#000"/><rect x="143.68" y="324.52" width="4.22" height="1.13" fill="#000"/><rect x="137.77" y="325.65" width="10.13" height="0.69" fill="#000"/><rect x="137.7" y="326.35" width="10.2" height="1.56" fill="#000"/><rect x="139.06" y="327.91" width="8.84" height="1.17" fill="#000"/><rect x="135.41" y="329.08" width="12.49" height="1.58" fill="#000"/><rect x="123.86" y="330.67" width="24.04" height="1.31" fill="#000"/><rect x="137.75" y="331.98" width="10.15" height="1.01" fill="#000"/><rect x="133.99" y="332.99" width="13.91" height="0.98" fill="#000"/><rect x="131.27" y="333.96" width="16.63" height="1.39" fill="#000"/><rect x="139.76" y="335.36" width="8.14" height="1.11" fill="#000"/><rect x="144.63" y="336.46" width="3.27" height="1.22" fill="#000"/><rect x="137.4" y="337.69" width="10.5" height="1.2" fill="#000"/><rect x="145.09" y="338.89" width="2.81" height="1.23" fill="#000"/><rect x="143.47" y="340.12" width="4.43" height="0.54" fill="#000"/><rect x="142.54" y="340.65" width="5.36" height="1.6" fill="#000"/><rect x="138.78" y="342.25" width="9.12" height="1.49" fill="#000"/><rect x="143.16" y="343.74" width="4.74" height="0.63" fill="#000"/><rect x="143.68" y="344.36" width="4.22" height="1.33" fill="#000"/><rect x="141.08" y="345.7" width="6.82" height="0.54" fill="#000"/><rect x="141.04" y="346.23" width="6.86" height="0.89" fill="#000"/><rect x="138.36" y="347.13" width="9.54" height="1.18" fill="#000"/><rect x="142.08" y="348.31" width="5.82" height="0.69" fill="#000"/><rect x="134.92" y="349" width="12.98" height="1.42" fill="#000"/><rect x="142.18" y="350.42" width="5.72" height="1.77" fill="#000"/><rect x="144.48" y="352.19" width="3.42" height="0.93" fill="#000"/><rect x="142.57" y="353.12" width="5.33" height="0.87" fill="#000"/><rect x="138.73" y="353.99" width="9.17" height="0.96" fill="#000"/><rect x="141.03" y="354.95" width="6.87" height="1.51" fill="#000"/><rect x="145.5" y="356.46" width="2.4" height="0.78" fill="#000"/><rect x="145.18" y="357.24" width="2.72" height="1.27" fill="#000"/><rect x="140.76" y="358.51" width="7.14" height="1.26" fill="#000"/><rect x="141.92" y="359.77" width="5.98" height="1.07" fill="#000"/><rect x="137.2" y="360.84" width="10.7" height="0.61" fill="#000"/><rect x="138.53" y="361.45" width="9.37" height="1.3" fill="#000"/><rect x="128.26" y="362.74" width="19.64" height="1.26" fill="#000"/><rect x="139.44" y="364" width="8.46" height="0.79" fill="#000"/><rect x="143.03" y="364.79" width="4.87" height="1.01" fill="#000"/><rect x="140.42" y="365.8" width="7.48" height="1.01" fill="#000"/><rect x="140.43" y="366.81" width="7.47" height="1.62" fill="#000"/><rect x="141.43" y="368.43" width="6.47" height="1.36" fill="#000"/><rect x="144.66" y="369.79" width="3.24" height="0.62" fill="#000"/><rect x="145.15" y="370.41" width="2.75" height="1.22" fill="#000"/><rect x="142.09" y="371.64" width="5.81" height="0.62" fill="#000"/><rect x="142.67" y="372.26" width="5.23" height="1.17" fill="#000"/><rect x="142.96" y="373.43" width="4.94" height="1.12" fill="#000"/><rect x="142.58" y="374.56" width="5.32" height="1.67" fill="#000"/><rect x="146" y="376.22" width="1.9" height="0.66" fill="#000"/><rect x="143.63" y="376.89" width="4.27" height="1.15" fill="#000"/><rect x="136.44" y="378.03" width="11.46" height="1.47" fill="#000"/><rect x="140.92" y="379.5" width="6.98" height="1.48" fill="#000"/><rect x="143.02" y="380.98" width="4.88" height="0.74" fill="#000"/><rect x="143.97" y="381.72" width="3.93" height="1.11" fill="#000"/><rect x="136.83" y="382.82" width="11.07" height="1.34" fill="#000"/><rect x="139.33" y="384.16" width="8.57" height="0.93" fill="#000"/><rect x="143.39" y="385.09" width="4.51" height="1.37" fill="#000"/><rect x="136.79" y="386.46" width="11.11" height="1.74" fill="#000"/><rect x="141.79" y="388.2" width="6.11" height="1.56" fill="#000"/><rect x="136.86" y="389.76" width="11.04" height="0.85" fill="#000"/><rect x="142.29" y="390.61" width="5.61" height="1.73" fill="#000"/><rect x="141.88" y="392.33" width="6.02" height="1.53" fill="#000"/><rect x="143.02" y="393.86" width="4.88" height="1.54" fill="#000"/><rect x="141.67" y="395.4" width="6.23" height="0.8" fill="#000"/><rect x="145.27" y="396.2" width="2.63" height="1.67" fill="#000"/><rect x="141.06" y="397.87" width="6.84" height="1.59" fill="#000"/><rect x="142.57" y="399.46" width="5.33" height="0.69" fill="#000"/><rect x="137.26" y="400.14" width="10.64" height="1.25" fill="#000"/><rect x="139.96" y="401.39" width="7.94" height="0.76" fill="#000"/><rect x="133.25" y="402.15" width="14.65" height="1.29" fill="#000"/><rect x="139.88" y="403.44" width="8.02" height="1.36" fill="#000"/><rect x="144.01" y="404.8" width="3.89" height="0.5" fill="#000"/><rect x="140.15" y="405.3" width="7.75" height="0.7" fill="#000"/><rect x="130.08" y="406" width="17.82" height="1.75" fill="#000"/><rect x="140.78" y="407.75" width="7.12" height="0.8" fill="#000"/><rect x="133.89" y="408.55" width="14.01" height="1.05" fill="#000"/><rect x="140.36" y="409.6" width="7.54" height="1.08" fill="#000"/><rect x="142.66" y="410.68" width="5.24" height="1.5" fill="#000"/><rect x="140.07" y="412.18" width="7.83" height="1.56" fill="#000"/><rect x="131.69" y="413.74" width="16.21" height="1.69" fill="#000"/><rect x="144.04" y="415.43" width="3.86" height="0.97" fill="#000"/><rect x="144.86" y="416.39" width="3.04" height="1.21" fill="#000"/><rect x="140.67" y="417.61" width="7.23" height="0.81" fill="#000"/><rect x="145.28" y="418.42" width="2.62" height="0.77" fill="#000"/><rect x="144.57" y="419.19" width="3.33" height="1.12" fill="#000"/><rect x="145.79" y="420.31" width="2.11" height="1.52" fill="#000"/><rect x="140.92" y="421.83" width="6.98" height="1.75" fill="#000"/><rect x="145.27" y="423.58" width="2.63" height="1.3" fill="#000"/><rect x="143.33" y="424.88" width="4.57" height="0.71" fill="#000"/><rect x="144.77" y="425.59" width="3.13" height="1.14" fill="#000"/><rect x="139.25" y="426.73" width="8.65" height="1.71" fill="#000"/><rect x="143.46" y="428.44" width="4.44" height="1.07" fill="#000"/><rect x="144.06" y="429.51" width="3.84" height="0.77" fill="#000"/><rect x="141.96" y="430.28" width="5.94" height="1.11" fill="#000"/><rect x="141.31" y="431.39" width="6.59" height="1.54" fill="#000"/><rect x="143.88" y="432.93" width="4.02" height="1.42" fill="#000"/><rect x="136.37" y="434.35" width="11.53" height="1.75" fill="#000"/><rect x="143.98" y="436.1" width="3.92" height="0.52" fill="#000"/><rect x="143.61" y="436.62" width="4.29" height="1.4" fill="#000"/><rect x="142.89" y="438.02" width="5.01" height="0.95" fill="#000"/><rect x="144.43" y="438.97" width="3.47" height="0.78" fill="#000"/><rect x="140.69" y="439.75" width="7.21" height="1.28" fill="#000"/><rect x="141.96" y="441.03" width="5.94" height="0.96" fill="#000"/><rect x="137.12" y="441.99" width="10.78" height="0.64" fill="#000"/><rect x="140.69" y="442.63" width="7.21" height="1.37" fill="#000"/><rect x="136.36" y="444" width="11.54" height="0.7" fill="#000"/><rect x="141.49" y="444.7" width="6.41" height="1.34" fill="#000"/><rect x="133.95" y="446.04" width="13.95" height="0.87" fill="#000"/><rect x="136.41" y="446.9" width="11.49" height="0.6" fill="#000"/><rect x="138.7" y="447.5" width="9.2" height="1.42" fill="#000"/><rect x="142.63" y="448.92" width="5.27" height="1.61" fill="#000"/><rect x="142.88" y="450.54" width="5.02" height="0.66" fill="#000"/><rect x="137.48" y="451.2" width="10.42" height="1.24" fill="#000"/><rect x="141.21" y="452.44" width="6.69" height="1.4" fill="#000"/><rect x="138.03" y="453.85" width="9.87" height="0.63" fill="#000"/><rect x="140.65" y="454.47" width="7.25" height="1.05" fill="#000"/><rect x="134.38" y="455.52" width="13.52" height="1.39" fill="#000"/><rect x="131.43" y="456.91" width="16.47" height="1.09" fill="#000"/><rect x="144.35" y="458" width="3.55" height="1.62" fill="#000"/><rect x="137.45" y="459.62" width="10.45" height="0.86" fill="#000"/><rect x="144.68" y="460.49" width="3.22" height="1.4" fill="#000"/><rect x="142.77" y="461.88" width="5.13" height="0.59" fill="#000"/><rect x="141.42" y="462.48" width="6.48" height="0.8" fill="#000"/><rect x="144.76" y="463.28" width="3.14" height="0.69" fill="#000"/><rect x="144.71" y="463.97" width="3.19" height="1.23" fill="#000"/><rect x="143.48" y="465.2" width="4.42" height="0.97" fill="#000"/><rect x="136.97" y="466.17" width="10.93" height="1.33" fill="#000"/><rect x="137.61" y="467.5" width="10.29" height="0.79" fill="#000"/><rect x="142.76" y="468.29" width="5.14" height="1.48" fill="#000"/><rect x="143.24" y="469.77" width="4.66" height="1.74" fill="#000"/><rect x="143.26" y="471.51" width="4.64" height="0.65" fill="#000"/><rect x="144.95" y="472.16" width="2.95" height="1.16" fill="#000"/><rect x="142.09" y="473.32" width="5.81" height="0.68" fill="#000"/><rect x="127.68" y="474" width="20.22" height="1.55" fill="#000"/><rect x="134.15" y="475.55" width="13.75" height="1.79" fill="#000"/><rect x="140.08" y="477.34" width="7.82" height="1.42" fill="#000"/><rect x="140.01" y="478.76" width="7.89" height="0.81" fill="#000"/><rect x="143.66" y="479.57" width="4.24" height="1.73" fill="#000"/><rect x="146" y="481.3" width="1.9" height="1.31" fill="#000"/><rect x="146" y="482.61" width="1.9" height="0.49" fill="#000"/><rect x="142.47" y="483.1" width="5.43" height="0.63" fill="#000"/><rect x="144.69" y="483.73" width="3.21" height="1.27" fill="#000"/><rect x="138.35" y="485" width="9.55" height="1.47" fill="#000"/><rect x="139.98" y="486.47" width="7.92" height="0.72" fill="#000"/><rect x="146" y="487.19" width="1.9" height="1.15" fill="#000"/><rect x="145.61" y="488.34" width="2.29" height="0.8" fill="#000"/><rect x="141.29" y="489.14" width="6.61" height="1.61" fill="#000"/><rect x="143.85" y="490.75" width="4.05" height="0.73" fill="#000"/><rect x="143.72" y="491.49" width="4.18" height="1.78" fill="#000"/><rect x="143.59" y="493.27" width="4.31" height="0.89" fill="#000"/><rect x="139.61" y="494.16" width="8.29" height="1.19" fill="#000"/><rect x="134.62" y="495.35" width="13.28" height="0.71" fill="#000"/><rect x="133.69" y="496.06" width="14.21" height="1.51" fill="#000"/><rect x="137.87" y="497.57" width="10.03" height="1.2" fill="#000"/><rect x="138.93" y="498.77" width="8.97" height="1.75" fill="#000"/><rect x="143.86" y="500.52" width="4.04" height="1.26" fill="#000"/><rect x="138.51" y="501.77" width="9.39" height="1.23" fill="#000"/><rect x="123.22" y="503" width="24.68" height="0.89" fill="#000"/><rect x="125.47" y="503.89" width="22.43" height="1.2" fill="#000"/><rect x="135.21" y="505.09" width="12.69" height="1.01" fill="#000"/><rect x="136.3" y="506.1" width="11.6" height="1.07" fill="#000"/><rect x="140.44" y="507.17" width="7.46" height="1.4" fill="#000"/><rect x="137.52" y="508.57" width="10.38" height="0.78" fill="#000"/><rect x="137.33" y="509.35" width="10.57" height="1.65" fill="#000"/><rect x="141.46" y="511" width="6.44" height="1.16" fill="#000"/><rect x="137.28" y="512.16" width="10.62" height="0.88" fill="#000"/><rect x="142.23" y="513.03" width="5.67" height="1.06" fill="#000"/><rect x="130.65" y="514.09" width="17.25" height="1.21" fill="#000"/><rect x="129.63" y="515.3" width="18.27" height="1.12" fill="#000"/><rect x="129" y="516.42" width="18.9" height="1.37" fill="#000"/><rect x="130.94" y="517.78" width="16.96" height="0.72" fill="#000"/><path d="M131 177.3H147.9V518.5H131V410H127V330H129V300H131Z" fill="#000"/><rect x="3.6" y="575.3000000000001" width="62.8" height="21" rx="10.6" fill="#fff" stroke="#000" stroke-width="2"/><text x="37" y="588.6" text-anchor="middle" font-size="11" font-weight="bold" fill="#1a1a1a" font-family="Liberation Sans, sans-serif">B cell</text><path d="M67 585.8H87.5" stroke="#000" stroke-width="1.5"/><path d="M86.5 581.8L95.0 585.8L86.5 589.8Z" fill="#000"/><rect x="95.1" y="575.3000000000001" width="61.3" height="21" rx="10.6" fill="#fff" stroke="#000" stroke-width="2"/><text x="127.75" y="588.6" text-anchor="middle" font-size="11" font-weight="bold" fill="#1a1a1a" font-family="Liberation Sans, sans-serif">PC</text><path d="M157 585.8H176.3" stroke="#000" stroke-width="1.5"/><path d="M175.3 581.8L183.8 585.8L175.3 589.8Z" fill="#000"/><rect x="183.9" y="575.3000000000001" width="61.8" height="21" rx="10.6" fill="#fff" stroke="#000" stroke-width="2"/><text x="216.8" y="588.6" text-anchor="middle" font-size="11" font-weight="bold" fill="#1a1a1a" font-family="Liberation Sans, sans-serif">MGUS</text><path d="M246.3 585.8H266.3" stroke="#000" stroke-width="1.5"/><path d="M265.3 581.8L273.8 585.8L265.3 589.8Z" fill="#000"/><rect x="273.90000000000003" y="575.3000000000001" width="61.8" height="21" rx="10.6" fill="#fff" stroke="#000" stroke-width="2"/><text x="306.8" y="588.6" text-anchor="middle" font-size="11" font-weight="bold" fill="#1a1a1a" font-family="Liberation Sans, sans-serif">MM</text><path d="M336.3 585.8H357.6" stroke="#000" stroke-width="1.5"/><path d="M356.6 581.8L365.1 585.8L356.6 589.8Z" fill="#000"/><rect x="365.20000000000005" y="575.3000000000001" width="60.4" height="21" rx="10.6" fill="#fff" stroke="#000" stroke-width="2"/><text x="397.4" y="588.6" text-anchor="middle" font-size="11" font-weight="bold" fill="#1a1a1a" font-family="Liberation Sans, sans-serif">PCL</text><path d="M426.2 585.8H445.3" stroke="#000" stroke-width="1.5"/><path d="M444.3 581.8L452.8 585.8L444.3 589.8Z" fill="#000"/><rect x="452.90000000000003" y="575.3000000000001" width="61.9" height="21" rx="10.6" fill="#fff" stroke="#000" stroke-width="2"/><text x="485.85" y="588.6" text-anchor="middle" font-size="11" font-weight="bold" fill="#1a1a1a" font-family="Liberation Sans, sans-serif">HMCL</text><text x="7.5" y="621.5" font-size="12" font-weight="bold" font-family="Liberation Sans, sans-serif">Hypo</text><text x="7.5" y="643.5" font-size="12" font-weight="bold" font-family="Liberation Sans, sans-serif">Hyper</text><text x="82.7" y="621.5" text-anchor="middle" font-size="12" font-weight="bold" font-family="Liberation Sans, sans-serif">637</text><text x="82.7" y="643.5" text-anchor="middle" font-size="12" font-weight="bold" font-family="Liberation Sans, sans-serif">222</text><text x="170.4" y="621.5" text-anchor="middle" font-size="12" font-weight="bold" font-family="Liberation Sans, sans-serif">14</text><text x="170.4" y="643.5" text-anchor="middle" font-size="12" font-weight="bold" font-family="Liberation Sans, sans-serif">9</text><text x="262.5" y="621.5" text-anchor="middle" font-size="12" font-weight="bold" font-family="Liberation Sans, sans-serif">3407</text><text x="262.5" y="643.5" text-anchor="middle" font-size="12" font-weight="bold" font-family="Liberation Sans, sans-serif">82</text><text x="351" y="621.5" text-anchor="middle" font-size="12" font-weight="bold" font-family="Liberation Sans, sans-serif">3</text><text x="351" y="643.5" text-anchor="middle" font-size="12" font-weight="bold" font-family="Liberation Sans, sans-serif">2151</text><text x="441" y="621.5" text-anchor="middle" font-size="12" font-weight="bold" font-family="Liberation Sans, sans-serif">41</text><text x="441" y="643.5" text-anchor="middle" font-size="12" font-weight="bold" font-family="Liberation Sans, sans-serif">426</text></svg></body></html>
